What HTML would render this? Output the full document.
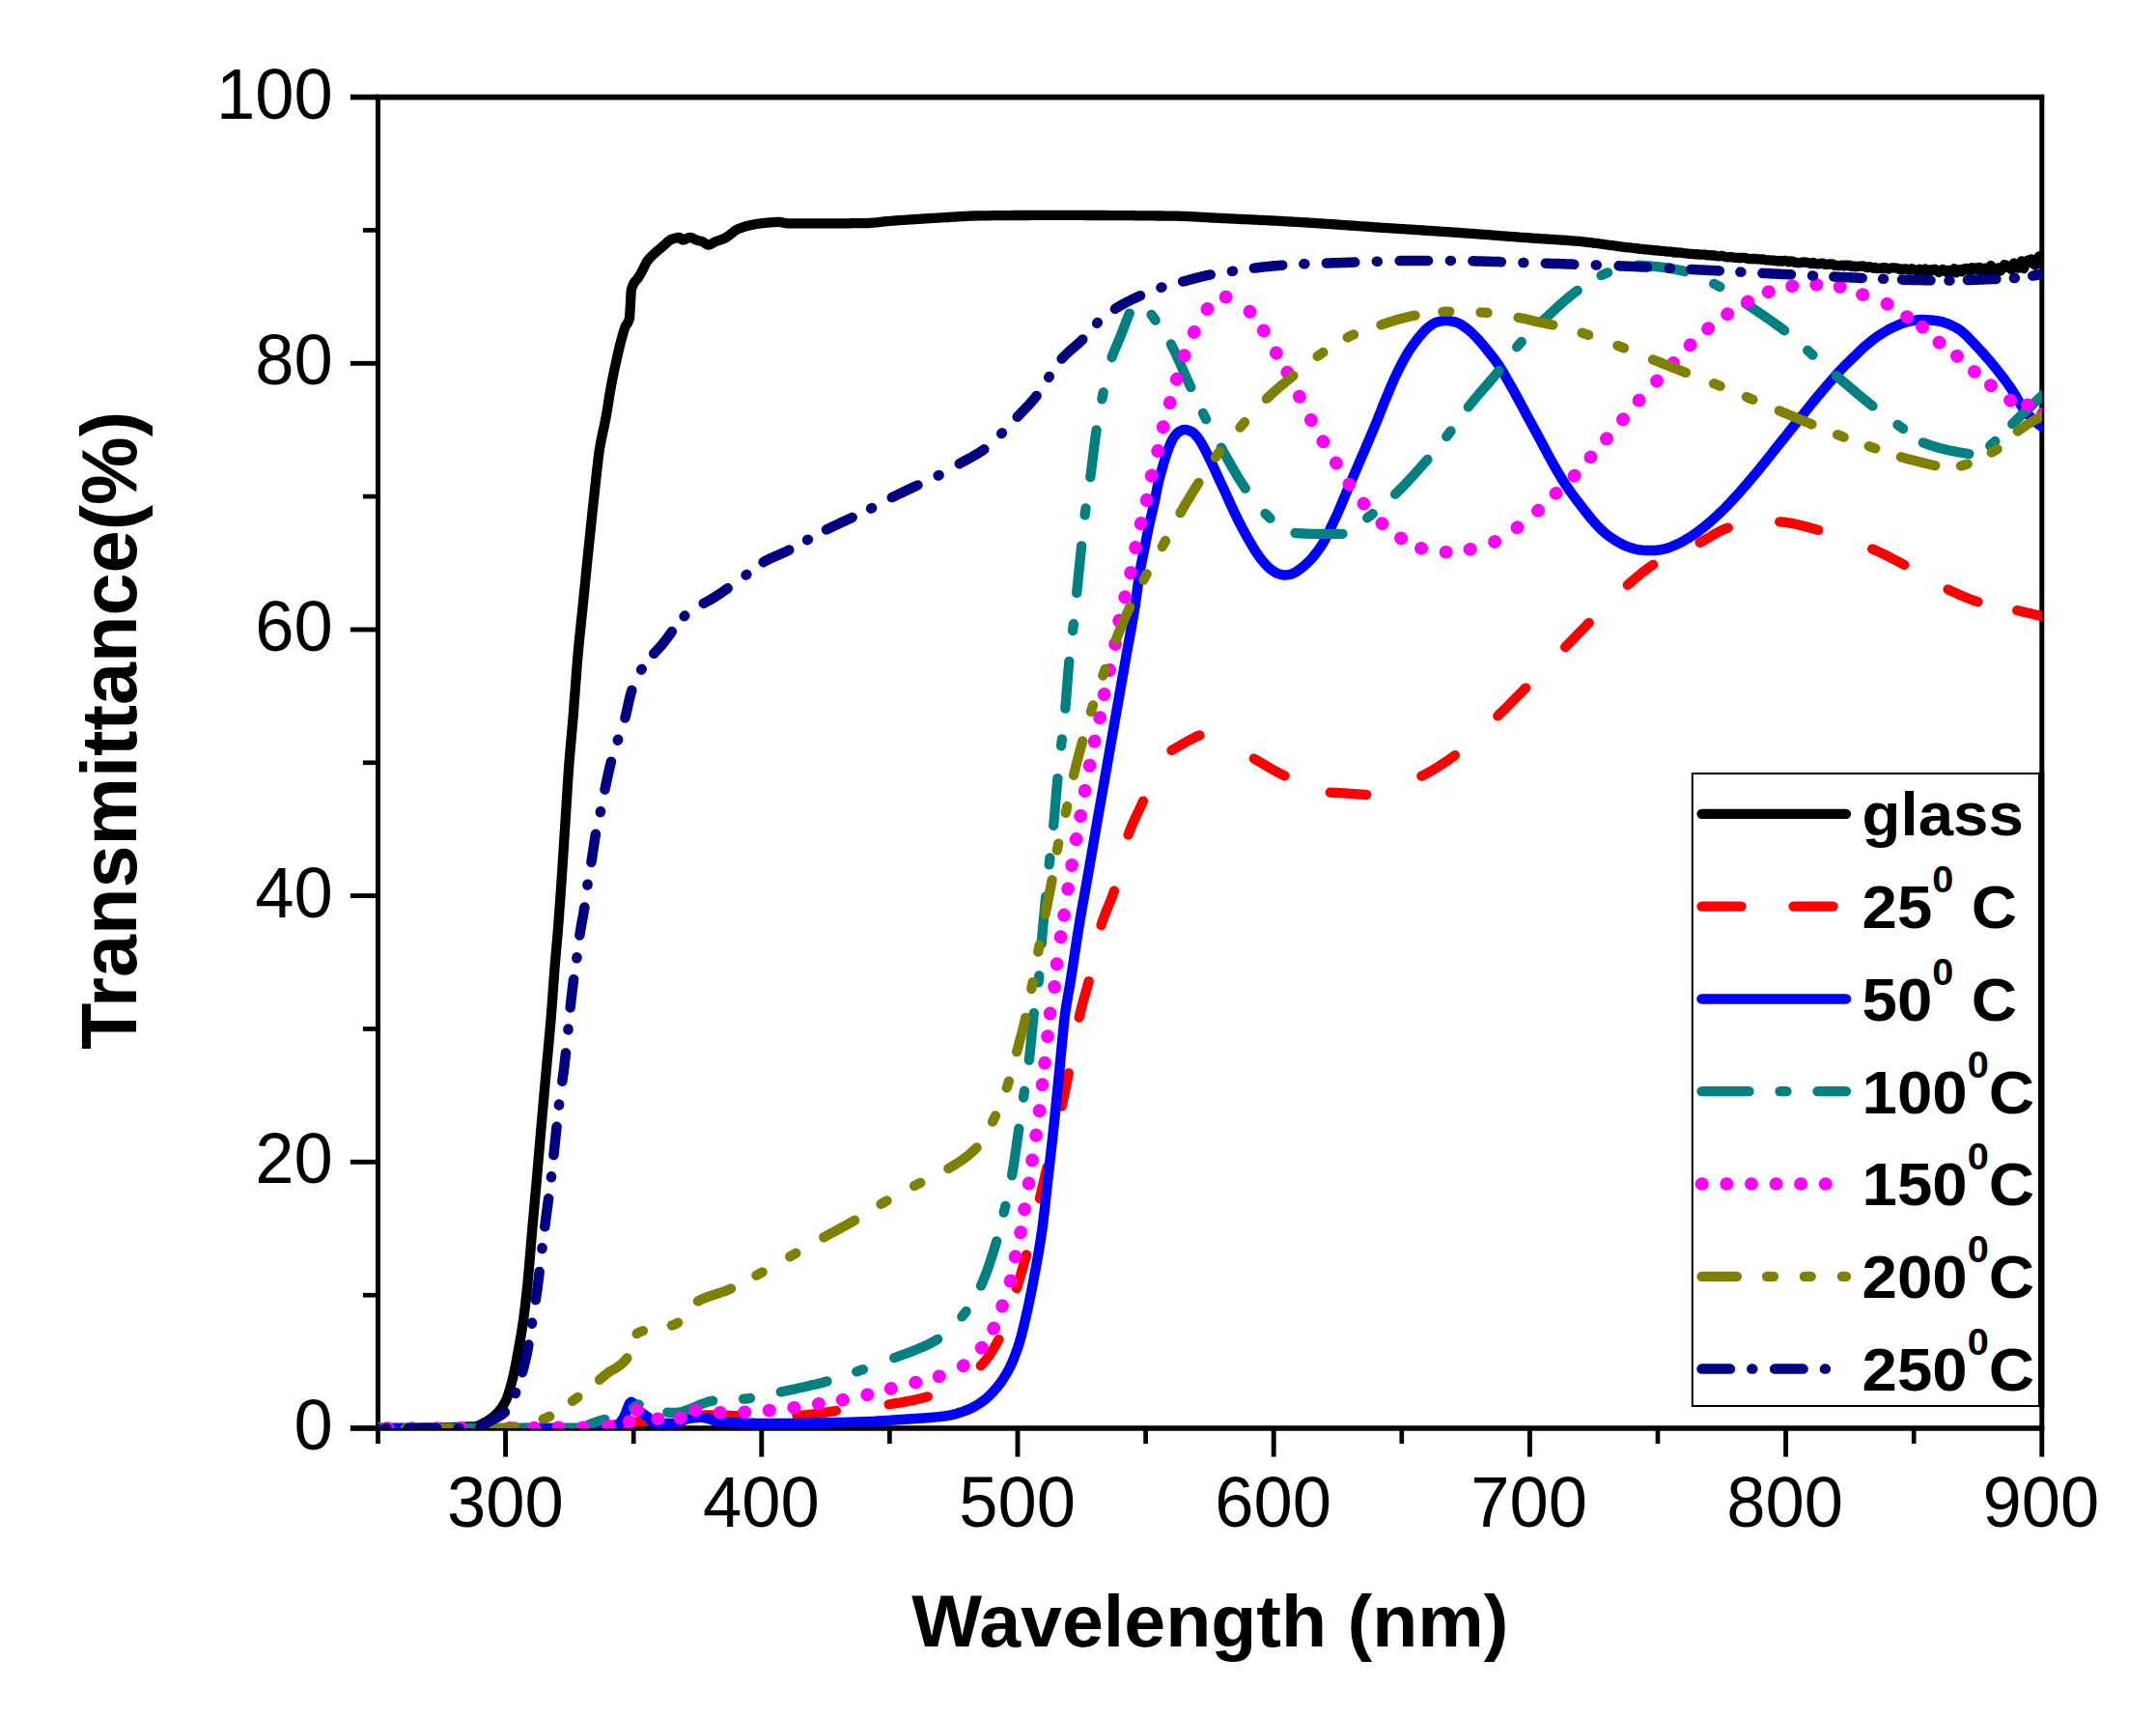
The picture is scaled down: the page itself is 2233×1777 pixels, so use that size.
<!DOCTYPE html>
<html><head><meta charset="utf-8"><title>Transmittance</title>
<style>
html,body{margin:0;padding:0;background:#fff;overflow:hidden;}
svg{display:block;}
text{font-family:"Liberation Sans",Arial,Helvetica,sans-serif;fill:#000;}
.b{font-weight:bold;}
</style></head><body>
<svg width="2233" height="1777" viewBox="0 0 2233 1777">
<rect width="2233" height="1777" fill="#fff"/>
<defs><clipPath id="cp"><rect x="391.2" y="100.6" width="1723.6000000000001" height="1378.4"/></clipPath></defs>

<g stroke="#000" fill="none" stroke-linecap="butt">
<line x1="389.0" y1="100.6" x2="2117.3" y2="100.6" stroke-width="5.7"/>
<line x1="389.0" y1="1479.0" x2="2117.3" y2="1479.0" stroke-width="5.7"/>
<line x1="391.5" y1="100.6" x2="391.5" y2="1479.0" stroke-width="5.0"/>
<line x1="2114.8" y1="100.6" x2="2114.8" y2="1479.0" stroke-width="5.0"/>
<line x1="523.6" y1="1479.0" x2="523.6" y2="1508.6" stroke-width="4.9"/>
<line x1="788.8" y1="1479.0" x2="788.8" y2="1508.6" stroke-width="4.9"/>
<line x1="1054.0" y1="1479.0" x2="1054.0" y2="1508.6" stroke-width="4.9"/>
<line x1="1319.2" y1="1479.0" x2="1319.2" y2="1508.6" stroke-width="4.9"/>
<line x1="1584.4" y1="1479.0" x2="1584.4" y2="1508.6" stroke-width="4.9"/>
<line x1="1849.6" y1="1479.0" x2="1849.6" y2="1508.6" stroke-width="4.9"/>
<line x1="2114.8" y1="1479.0" x2="2114.8" y2="1508.6" stroke-width="4.9"/>
<line x1="391.5" y1="1479.0" x2="391.5" y2="1495.0" stroke-width="4.7"/>
<line x1="656.2" y1="1479.0" x2="656.2" y2="1495.0" stroke-width="4.7"/>
<line x1="921.4" y1="1479.0" x2="921.4" y2="1495.0" stroke-width="4.7"/>
<line x1="1186.6" y1="1479.0" x2="1186.6" y2="1495.0" stroke-width="4.7"/>
<line x1="1451.8" y1="1479.0" x2="1451.8" y2="1495.0" stroke-width="4.7"/>
<line x1="1717.0" y1="1479.0" x2="1717.0" y2="1495.0" stroke-width="4.7"/>
<line x1="1982.2" y1="1479.0" x2="1982.2" y2="1495.0" stroke-width="4.7"/>
<line x1="391.5" y1="1479.0" x2="362.9" y2="1479.0" stroke-width="5.7"/>
<line x1="391.5" y1="1341.2" x2="375.9" y2="1341.2" stroke-width="4.7"/>
<line x1="391.5" y1="1203.3" x2="362.9" y2="1203.3" stroke-width="4.9"/>
<line x1="391.5" y1="1065.5" x2="375.9" y2="1065.5" stroke-width="4.7"/>
<line x1="391.5" y1="927.6" x2="362.9" y2="927.6" stroke-width="4.9"/>
<line x1="391.5" y1="789.8" x2="375.9" y2="789.8" stroke-width="4.7"/>
<line x1="391.5" y1="652.0" x2="362.9" y2="652.0" stroke-width="4.9"/>
<line x1="391.5" y1="514.1" x2="375.9" y2="514.1" stroke-width="4.7"/>
<line x1="391.5" y1="376.3" x2="362.9" y2="376.3" stroke-width="4.9"/>
<line x1="391.5" y1="238.4" x2="375.9" y2="238.4" stroke-width="4.7"/>
<line x1="391.5" y1="100.6" x2="362.9" y2="100.6" stroke-width="5.7"/>
</g>
<text transform="translate(523.4 1581.4) scale(0.965 1)" font-size="75" text-anchor="middle">300</text>
<text transform="translate(788.4 1581.4) scale(0.965 1)" font-size="75" text-anchor="middle">400</text>
<text transform="translate(1053.5 1581.4) scale(0.965 1)" font-size="75" text-anchor="middle">500</text>
<text transform="translate(1318.6 1581.4) scale(0.965 1)" font-size="75" text-anchor="middle">600</text>
<text transform="translate(1583.6 1581.4) scale(0.965 1)" font-size="75" text-anchor="middle">700</text>
<text transform="translate(1848.7 1581.4) scale(0.965 1)" font-size="75" text-anchor="middle">800</text>
<text transform="translate(2113.8 1581.4) scale(0.965 1)" font-size="75" text-anchor="middle">900</text>
<text transform="translate(344.8 1501.0) scale(0.965 1)" font-size="75" text-anchor="end">0</text>
<text transform="translate(344.8 1225.3) scale(0.965 1)" font-size="75" text-anchor="end">20</text>
<text transform="translate(344.8 949.6) scale(0.965 1)" font-size="75" text-anchor="end">40</text>
<text transform="translate(344.8 674.0) scale(0.965 1)" font-size="75" text-anchor="end">60</text>
<text transform="translate(344.8 398.3) scale(0.965 1)" font-size="75" text-anchor="end">80</text>
<text transform="translate(344.8 122.6) scale(0.965 1)" font-size="75" text-anchor="end">100</text>
<text class="b" transform="translate(1253.4 1705) scale(1.0213 1)" font-size="75.5" text-anchor="middle">Wavelength (nm)</text>
<text class="b" transform="translate(140.5 756.5) rotate(-90) scale(0.9733 1)" font-size="81.5" text-anchor="middle">Transmittance(%)</text>
<g clip-path="url(#cp)" fill="none" stroke-linejoin="round">
<path id="glass" d="M390.0 1479.0 L392.0 1479.0 L394.0 1479.0 L396.0 1479.0 L398.0 1479.0 L400.0 1479.0 L402.0 1479.0 L404.0 1479.0 L406.0 1479.0 L408.0 1479.0 L410.0 1479.0 L412.0 1479.0 L414.0 1478.9 L416.0 1478.9 L418.0 1478.9 L420.0 1478.9 L422.0 1478.9 L424.0 1478.9 L426.0 1478.9 L428.0 1478.8 L430.0 1478.8 L432.0 1478.8 L434.0 1478.8 L436.0 1478.7 L438.0 1478.7 L440.0 1478.7 L442.0 1478.7 L444.0 1478.6 L446.0 1478.6 L448.0 1478.6 L450.0 1478.5 L452.0 1478.5 L454.0 1478.4 L456.0 1478.4 L458.0 1478.3 L460.0 1478.3 L462.0 1478.2 L464.0 1478.2 L466.0 1478.1 L468.0 1478.1 L470.0 1478.0 L472.0 1478.0 L474.0 1477.9 L476.0 1477.8 L478.0 1477.8 L480.0 1477.7 L482.0 1477.6 L484.0 1477.5 L486.0 1477.5 L488.0 1477.4 L490.0 1477.3 L491.9 1477.2 L492.0 1477.2 L494.0 1476.9 L496.0 1476.2 L498.0 1475.2 L500.0 1474.2 L502.0 1473.0 L503.1 1472.4 L504.0 1471.9 L506.0 1470.7 L508.0 1469.3 L510.0 1467.8 L512.0 1466.2 L514.0 1464.3 L514.3 1464.0 L516.0 1462.2 L518.0 1459.9 L520.0 1457.1 L522.0 1453.9 L524.0 1450.2 L524.1 1450.0 L526.0 1445.3 L528.0 1438.9 L530.0 1431.5 L531.0 1427.6 L532.0 1423.4 L534.0 1413.7 L536.0 1403.0 L536.6 1399.7 L538.0 1392.0 L540.0 1380.5 L542.0 1367.5 L542.2 1366.1 L544.0 1351.9 L546.0 1333.6 L546.4 1329.7 L548.0 1312.2 L550.0 1288.0 L551.2 1273.8 L552.0 1264.7 L554.0 1242.5 L556.0 1220.1 L556.2 1217.8 L558.0 1196.9 L560.0 1173.4 L561.0 1161.9 L562.0 1150.6 L564.0 1128.3 L566.0 1106.0 L568.0 1084.2 L570.0 1062.0 L571.0 1050.0 L572.0 1036.8 L574.0 1008.8 L574.4 1003.6 L576.0 984.9 L578.0 961.6 L580.0 934.7 L582.0 905.7 L584.0 874.9 L585.6 849.7 L586.0 843.4 L588.0 811.3 L589.2 793.8 L590.0 783.6 L592.0 760.8 L594.0 737.8 L596.0 710.7 L598.0 684.2 L598.2 681.9 L600.0 662.7 L602.0 643.4 L603.8 626.0 L604.0 624.0 L606.0 603.9 L608.0 583.8 L609.4 570.0 L610.0 564.2 L612.0 544.9 L614.0 526.0 L616.0 507.6 L616.4 504.0 L618.0 489.1 L620.0 471.8 L620.6 467.6 L622.0 459.2 L624.0 449.3 L626.0 440.1 L628.0 430.0 L630.0 417.7 L632.0 405.0 L632.9 399.8 L634.0 394.0 L636.0 384.3 L637.8 376.0 L638.0 375.1 L640.0 366.1 L642.0 357.7 L642.7 355.0 L644.0 350.1 L646.0 342.9 L647.6 338.3 L648.0 337.4 L650.0 334.8 L652.0 329.9 L652.9 315.9 L653.6 301.9 L654.0 299.6 L655.9 294.2 L656.0 294.0 L658.0 291.1 L660.0 289.0 L660.8 287.9 L662.0 286.0 L664.0 282.6 L665.7 279.5 L666.0 278.9 L668.0 274.7 L669.9 271.1 L670.0 271.0 L672.0 268.4 L674.0 266.2 L676.0 264.2 L677.6 262.7 L678.0 262.3 L680.0 260.5 L682.0 258.8 L684.0 257.2 L686.0 255.6 L686.7 255.0 L688.0 253.8 L690.0 251.9 L692.0 250.0 L694.0 248.5 L695.1 248.0 L696.0 247.7 L698.0 246.9 L700.0 246.4 L702.0 246.0 L703.5 245.9 L704.0 246.0 L706.0 248.0 L707.0 248.5 L708.0 248.4 L710.0 247.6 L712.0 246.6 L714.0 246.0 L714.7 245.9 L716.0 246.1 L718.0 246.9 L720.0 248.0 L721.7 248.7 L722.0 248.8 L724.0 249.3 L726.0 249.7 L727.3 250.1 L728.0 250.4 L730.0 251.8 L732.0 253.1 L733.6 253.6 L734.0 253.6 L736.0 253.0 L738.0 251.9 L740.0 250.7 L741.3 250.1 L742.0 249.8 L744.0 249.1 L746.0 248.5 L748.0 247.8 L749.7 247.1 L750.0 247.0 L752.0 245.9 L754.0 244.6 L755.2 243.8 L756.0 243.2 L758.0 241.5 L760.0 239.8 L762.0 238.4 L762.2 238.3 L764.0 237.4 L766.0 236.5 L768.0 235.8 L770.0 235.1 L772.0 234.5 L774.0 233.9 L776.0 233.4 L778.0 233.0 L780.0 232.6 L782.0 232.2 L783.2 232.0 L784.0 231.9 L786.0 231.6 L788.0 231.4 L790.0 231.1 L792.0 230.9 L794.0 230.7 L795.8 230.6 L796.0 230.6 L798.0 230.4 L800.0 230.2 L802.0 230.1 L804.0 230.0 L806.0 229.9 L807.0 229.9 L808.0 230.0 L810.0 230.3 L812.0 230.8 L814.0 231.2 L815.4 231.3 L816.0 231.3 L818.0 231.3 L820.0 231.3 L822.0 231.4 L824.0 231.4 L826.0 231.4 L828.0 231.4 L830.0 231.4 L832.0 231.4 L834.0 231.4 L836.0 231.4 L837.8 231.4 L838.0 231.4 L840.0 231.4 L842.0 231.4 L844.0 231.4 L846.0 231.4 L848.0 231.4 L850.0 231.4 L852.0 231.4 L854.0 231.4 L856.0 231.4 L858.0 231.4 L860.0 231.4 L862.0 231.4 L864.0 231.3 L866.0 231.3 L868.0 231.3 L870.0 231.3 L872.0 231.3 L874.0 231.3 L876.0 231.3 L878.0 231.3 L880.0 231.3 L882.0 231.2 L884.0 231.2 L886.0 231.2 L888.0 231.2 L890.0 231.2 L892.0 231.2 L894.0 231.1 L896.0 231.1 L897.5 231.1 L898.0 231.1 L900.0 231.0 L902.0 230.9 L904.0 230.7 L906.0 230.5 L908.0 230.3 L910.0 230.1 L912.0 229.8 L914.0 229.6 L916.0 229.4 L918.0 229.2 L919.9 229.0 L920.0 229.0 L922.0 228.8 L924.0 228.7 L926.0 228.5 L928.0 228.4 L930.0 228.2 L932.0 228.1 L934.0 227.9 L936.0 227.8 L938.0 227.7 L940.0 227.5 L942.0 227.4 L944.0 227.3 L946.0 227.1 L948.0 227.0 L950.0 226.9 L952.0 226.8 L954.0 226.6 L956.0 226.5 L958.0 226.4 L960.0 226.3 L962.0 226.1 L964.0 226.0 L966.0 225.9 L968.0 225.8 L970.0 225.7 L972.0 225.6 L974.0 225.4 L976.0 225.3 L978.0 225.2 L980.0 225.1 L982.0 225.0 L984.0 224.9 L986.0 224.7 L988.0 224.6 L990.0 224.5 L992.0 224.4 L994.0 224.2 L996.0 224.1 L998.0 224.0 L1000.0 223.9 L1002.0 223.8 L1004.0 223.7 L1006.0 223.6 L1008.0 223.5 L1010.0 223.5 L1012.0 223.4 L1013.6 223.4 L1014.0 223.4 L1016.0 223.4 L1018.0 223.3 L1020.0 223.3 L1022.0 223.3 L1024.0 223.3 L1026.0 223.3 L1028.0 223.2 L1030.0 223.2 L1032.0 223.2 L1034.0 223.2 L1036.0 223.2 L1038.0 223.1 L1040.0 223.1 L1042.0 223.1 L1044.0 223.1 L1046.0 223.1 L1048.0 223.1 L1050.0 223.0 L1052.0 223.0 L1054.0 223.0 L1056.0 223.0 L1058.0 223.0 L1060.0 223.0 L1062.0 223.0 L1064.0 223.0 L1066.0 223.0 L1068.0 222.9 L1070.0 222.9 L1072.0 222.9 L1074.0 222.9 L1076.0 222.9 L1078.0 222.9 L1080.0 222.9 L1082.0 222.9 L1084.0 222.9 L1086.0 222.9 L1088.0 222.9 L1090.0 222.9 L1091.9 222.9 L1092.0 222.9 L1094.0 222.9 L1096.0 222.9 L1098.0 222.9 L1100.0 222.9 L1102.0 222.9 L1104.0 222.9 L1106.0 222.9 L1108.0 222.9 L1110.0 222.9 L1112.0 222.9 L1114.0 222.9 L1116.0 222.9 L1118.0 222.9 L1120.0 222.9 L1122.0 222.9 L1124.0 223.0 L1126.0 223.0 L1128.0 223.0 L1130.0 223.0 L1132.0 223.0 L1134.0 223.0 L1136.0 223.0 L1138.0 223.0 L1140.0 223.0 L1142.0 223.0 L1144.0 223.0 L1146.0 223.0 L1148.0 223.1 L1150.0 223.1 L1152.0 223.1 L1154.0 223.1 L1156.0 223.1 L1158.0 223.1 L1160.0 223.1 L1162.0 223.1 L1164.0 223.2 L1166.0 223.2 L1168.0 223.2 L1170.0 223.2 L1172.0 223.2 L1174.0 223.2 L1176.0 223.3 L1178.0 223.3 L1180.0 223.3 L1182.0 223.3 L1184.0 223.3 L1186.0 223.3 L1188.0 223.4 L1190.0 223.4 L1192.0 223.4 L1194.0 223.4 L1196.0 223.4 L1198.0 223.5 L1200.0 223.5 L1202.0 223.5 L1204.0 223.5 L1206.0 223.6 L1208.0 223.6 L1210.0 223.6 L1212.0 223.6 L1214.0 223.7 L1216.0 223.7 L1217.8 223.7 L1218.0 223.7 L1220.0 223.7 L1222.0 223.8 L1224.0 223.8 L1226.0 223.9 L1228.0 224.0 L1230.0 224.1 L1232.0 224.2 L1234.0 224.3 L1236.0 224.4 L1238.0 224.5 L1240.0 224.6 L1242.0 224.7 L1244.0 224.8 L1246.0 224.9 L1248.0 225.1 L1250.0 225.2 L1252.0 225.3 L1254.0 225.4 L1256.0 225.5 L1258.0 225.6 L1259.7 225.7 L1260.0 225.7 L1262.0 225.8 L1264.0 225.9 L1266.0 226.0 L1268.0 226.1 L1270.0 226.2 L1272.0 226.3 L1274.0 226.4 L1276.0 226.5 L1278.0 226.6 L1280.0 226.7 L1282.0 226.8 L1284.0 226.9 L1286.0 227.0 L1288.0 227.1 L1290.0 227.2 L1292.0 227.2 L1294.0 227.3 L1296.0 227.4 L1298.0 227.5 L1300.0 227.6 L1302.0 227.7 L1304.0 227.8 L1306.0 227.9 L1308.0 228.0 L1310.0 228.1 L1312.0 228.2 L1314.0 228.3 L1316.0 228.4 L1318.0 228.5 L1320.0 228.6 L1322.0 228.7 L1324.0 228.8 L1326.0 228.9 L1328.0 229.0 L1330.0 229.1 L1332.0 229.3 L1334.0 229.4 L1336.0 229.5 L1338.0 229.6 L1340.0 229.7 L1342.0 229.8 L1343.6 229.9 L1344.0 229.9 L1346.0 230.0 L1348.0 230.2 L1350.0 230.3 L1352.0 230.4 L1354.0 230.5 L1356.0 230.6 L1358.0 230.8 L1360.0 230.9 L1362.0 231.0 L1364.0 231.2 L1366.0 231.3 L1368.0 231.4 L1370.0 231.5 L1372.0 231.7 L1374.0 231.8 L1376.0 231.9 L1378.0 232.1 L1380.0 232.2 L1382.0 232.4 L1384.0 232.5 L1386.0 232.6 L1388.0 232.8 L1390.0 232.9 L1392.0 233.1 L1394.0 233.2 L1396.0 233.3 L1398.0 233.5 L1400.0 233.6 L1402.0 233.7 L1404.0 233.9 L1406.0 234.0 L1408.0 234.2 L1410.0 234.3 L1412.0 234.4 L1414.0 234.6 L1416.0 234.7 L1418.0 234.9 L1420.0 235.0 L1422.0 235.1 L1424.0 235.3 L1426.0 235.4 L1427.6 235.5 L1428.0 235.5 L1430.0 235.7 L1432.0 235.8 L1434.0 235.9 L1436.0 236.1 L1438.0 236.2 L1440.0 236.3 L1442.0 236.4 L1444.0 236.6 L1446.0 236.7 L1448.0 236.8 L1450.0 237.0 L1452.0 237.1 L1454.0 237.2 L1456.0 237.3 L1458.0 237.5 L1460.0 237.6 L1462.0 237.7 L1464.0 237.9 L1466.0 238.0 L1468.0 238.1 L1470.0 238.2 L1472.0 238.4 L1474.0 238.5 L1476.0 238.6 L1478.0 238.8 L1480.0 238.9 L1482.0 239.0 L1484.0 239.1 L1486.0 239.3 L1488.0 239.4 L1490.0 239.5 L1492.0 239.7 L1494.0 239.8 L1496.0 239.9 L1498.0 240.1 L1500.0 240.2 L1502.0 240.3 L1504.0 240.5 L1506.0 240.6 L1508.0 240.8 L1510.0 240.9 L1511.5 241.0 L1512.0 241.0 L1514.0 241.2 L1516.0 241.3 L1518.0 241.5 L1520.0 241.6 L1522.0 241.8 L1524.0 241.9 L1526.0 242.0 L1528.0 242.2 L1530.0 242.3 L1532.0 242.5 L1534.0 242.6 L1536.0 242.8 L1538.0 242.9 L1540.0 243.1 L1542.0 243.2 L1544.0 243.4 L1546.0 243.6 L1548.0 243.7 L1550.0 243.9 L1552.0 244.0 L1554.0 244.2 L1556.0 244.3 L1558.0 244.5 L1560.0 244.6 L1562.0 244.8 L1564.0 244.9 L1566.0 245.1 L1568.0 245.2 L1570.0 245.4 L1572.0 245.5 L1574.0 245.7 L1576.0 245.8 L1578.0 246.0 L1580.0 246.1 L1582.0 246.2 L1584.0 246.4 L1586.0 246.5 L1588.0 246.7 L1590.0 246.8 L1592.0 246.9 L1594.0 247.0 L1596.0 247.2 L1598.0 247.3 L1600.0 247.4 L1602.0 247.5 L1604.0 247.7 L1606.0 247.8 L1608.0 247.9 L1610.0 248.0 L1612.0 248.2 L1614.0 248.3 L1616.0 248.5 L1618.0 248.6 L1620.0 248.7 L1622.0 248.9 L1624.0 249.0 L1626.0 249.2 L1628.0 249.3 L1630.0 249.5 L1632.0 249.6 L1634.0 249.8 L1635.9 250.0 L1636.0 249.9 L1638.0 250.2 L1640.0 250.4 L1642.0 250.7 L1644.0 250.9 L1646.0 251.0 L1648.0 251.2 L1650.0 251.6 L1652.0 251.8 L1654.0 251.9 L1656.0 252.3 L1658.0 252.5 L1660.0 252.9 L1662.0 253.2 L1664.0 253.5 L1666.0 253.7 L1668.0 254.1 L1670.0 254.1 L1672.0 254.4 L1674.0 254.6 L1676.0 255.2 L1678.0 255.2 L1680.0 255.6 L1682.0 255.8 L1684.0 256.2 L1686.0 256.3 L1688.0 256.4 L1690.0 256.7 L1691.9 256.8 L1692.0 256.9 L1694.0 257.3 L1696.0 257.2 L1698.0 257.9 L1700.0 257.9 L1702.0 258.0 L1704.0 258.5 L1706.0 258.3 L1708.0 258.6 L1710.0 259.1 L1712.0 258.9 L1714.0 259.4 L1716.0 259.2 L1718.0 259.7 L1720.0 259.9 L1722.0 259.9 L1724.0 260.1 L1726.0 260.5 L1728.0 260.7 L1730.0 260.5 L1732.0 260.9 L1734.0 261.5 L1736.0 261.2 L1738.0 261.7 L1740.0 261.5 L1742.0 261.8 L1744.0 262.1 L1746.0 262.3 L1748.0 262.6 L1750.0 262.8 L1752.0 262.9 L1754.0 263.2 L1756.0 263.4 L1758.0 263.1 L1760.0 263.7 L1762.0 263.6 L1764.0 263.6 L1766.0 263.7 L1768.0 264.4 L1770.0 264.4 L1772.0 264.1 L1774.0 264.7 L1775.8 264.4 L1776.0 264.7 L1778.0 265.1 L1780.0 265.3 L1782.0 265.0 L1784.0 265.0 L1786.0 265.7 L1788.0 266.1 L1790.0 266.3 L1792.0 266.0 L1794.0 266.4 L1796.0 266.7 L1798.0 267.0 L1800.0 266.8 L1802.0 267.3 L1804.0 266.9 L1806.0 266.9 L1808.0 267.2 L1810.0 267.8 L1812.0 268.2 L1814.0 267.8 L1816.0 268.3 L1818.0 267.8 L1820.0 268.4 L1822.0 268.4 L1824.0 268.6 L1826.0 268.4 L1828.0 269.1 L1830.0 269.3 L1832.0 269.4 L1834.0 269.7 L1836.0 269.5 L1838.0 270.1 L1840.0 269.9 L1842.0 270.5 L1844.0 270.0 L1846.0 270.6 L1848.0 270.0 L1850.0 270.0 L1852.0 271.3 L1854.0 270.7 L1856.0 270.4 L1858.0 271.3 L1859.7 271.9 L1860.0 271.7 L1862.0 272.1 L1864.0 272.2 L1866.0 271.7 L1868.0 271.5 L1870.0 271.4 L1872.0 271.9 L1874.0 272.5 L1876.0 273.1 L1878.0 271.9 L1880.0 273.2 L1882.0 273.3 L1884.0 273.3 L1886.0 272.6 L1888.0 272.6 L1890.0 273.8 L1892.0 273.8 L1894.0 273.5 L1896.0 273.6 L1898.0 273.3 L1900.0 274.9 L1902.0 274.8 L1904.0 275.2 L1906.0 275.1 L1908.0 274.6 L1910.0 275.4 L1912.0 274.5 L1914.0 275.4 L1915.7 274.8 L1916.0 275.0 L1918.0 276.0 L1920.0 275.4 L1922.0 276.3 L1924.0 275.9 L1926.0 275.6 L1928.0 275.7 L1930.0 275.4 L1932.0 276.5 L1934.0 277.1 L1936.0 276.1 L1938.0 276.7 L1940.0 277.8 L1942.0 276.9 L1944.0 278.0 L1946.0 277.9 L1948.0 277.5 L1950.0 277.9 L1952.0 276.9 L1954.0 277.9 L1956.0 278.5 L1958.0 277.5 L1960.0 277.3 L1962.0 277.3 L1964.0 277.7 L1966.0 277.9 L1968.0 279.3 L1970.0 278.6 L1971.6 278.9 L1972.0 278.4 L1974.0 278.4 L1976.0 279.1 L1978.0 279.7 L1980.0 278.3 L1982.0 279.1 L1984.0 279.8 L1986.0 280.8 L1988.0 278.8 L1990.0 279.3 L1992.0 279.9 L1994.0 278.6 L1996.0 280.2 L1998.0 281.5 L2000.0 279.2 L2002.0 280.0 L2004.0 278.7 L2006.0 280.2 L2008.0 282.0 L2010.0 280.4 L2012.0 279.0 L2013.6 279.4 L2014.0 280.7 L2016.0 281.8 L2018.0 280.0 L2020.0 280.1 L2022.0 281.6 L2024.0 278.2 L2026.0 282.3 L2028.0 279.8 L2030.0 279.1 L2032.0 281.4 L2034.0 278.5 L2036.0 277.8 L2038.0 278.3 L2040.0 280.7 L2042.0 277.1 L2044.0 279.2 L2046.0 277.7 L2048.0 279.6 L2050.0 276.8 L2052.0 281.1 L2054.0 282.1 L2055.5 277.7 L2056.0 277.9 L2058.0 279.6 L2060.0 280.6 L2062.0 275.0 L2064.0 279.8 L2066.0 280.9 L2068.0 280.5 L2070.0 277.3 L2072.0 280.5 L2074.0 277.8 L2076.0 274.1 L2078.0 274.7 L2080.0 277.4 L2082.0 276.8 L2083.5 279.1 L2084.0 278.2 L2086.0 272.5 L2088.0 274.0 L2090.0 277.7 L2092.0 273.6 L2094.0 270.3 L2096.0 278.2 L2098.0 271.9 L2100.0 269.7 L2102.0 271.8 L2103.0 268.9 L2104.0 268.4 L2106.0 273.2 L2108.0 274.8 L2110.0 269.3 L2112.0 265.5 L2114.0 269.8 L2116.0 268.6" stroke="#000000" stroke-width="10.3" stroke-linecap="round"/>
<path id="r25" d="M390.0 1479.0 L392.0 1479.0 L394.0 1479.0 L396.0 1479.0 L398.0 1479.0 L400.0 1479.0 L402.0 1479.0 L404.0 1479.0 L406.0 1479.0 L408.0 1479.0 L410.0 1479.0 L412.0 1479.0 L414.0 1479.0 L416.0 1479.0 L418.0 1479.0 L420.0 1479.0 L422.0 1479.0 L424.0 1479.0 L426.0 1479.0 L428.0 1479.0 L430.0 1479.0 L432.0 1479.0 L434.0 1479.0 L436.0 1479.0 L438.0 1479.0 L440.0 1479.0 L442.0 1479.0 L444.0 1479.0 L446.0 1479.0 L448.0 1479.0 L450.0 1479.0 L452.0 1479.0 L454.0 1479.0 L456.0 1479.0 L458.0 1479.0 L460.0 1479.0 L462.0 1479.0 L464.0 1479.0 L466.0 1479.0 L468.0 1479.0 L470.0 1479.0 L472.0 1479.0 L474.0 1479.0 L476.0 1479.0 L478.0 1479.0 L480.0 1479.0 L482.0 1479.0 L484.0 1479.0 L486.0 1479.0 L488.0 1479.0 L490.0 1479.0 L492.0 1479.0 L494.0 1479.0 L496.0 1479.0 L498.0 1479.0 L500.0 1479.0 L502.0 1479.0 L504.0 1479.0 L506.0 1479.0 L508.0 1478.9 L510.0 1478.9 L512.0 1478.9 L514.0 1478.9 L516.0 1478.9 L518.0 1478.9 L520.0 1478.9 L522.0 1478.9 L524.0 1478.9 L526.0 1478.9 L528.0 1478.9 L530.0 1478.9 L532.0 1478.9 L534.0 1478.9 L536.0 1478.9 L538.0 1478.9 L540.0 1478.9 L542.0 1478.9 L544.0 1478.9 L546.0 1478.9 L548.0 1478.9 L550.0 1478.9 L552.0 1478.9 L554.0 1478.9 L556.0 1478.9 L558.0 1478.9 L560.0 1478.9 L562.0 1478.9 L564.0 1478.9 L566.0 1478.9 L568.0 1478.9 L570.0 1478.9 L572.0 1478.9 L574.0 1478.9 L576.0 1478.9 L578.0 1478.8 L580.0 1478.8 L582.0 1478.8 L584.0 1478.8 L586.0 1478.8 L588.0 1478.8 L590.0 1478.8 L592.0 1478.8 L594.0 1478.8 L596.0 1478.8 L598.0 1478.8 L600.0 1478.8 L602.0 1478.8 L604.0 1478.7 L606.0 1478.7 L608.0 1478.6 L610.0 1478.4 L612.0 1478.3 L614.0 1478.2 L616.0 1478.0 L618.0 1477.8 L620.0 1477.6 L622.0 1477.3 L624.0 1477.1 L626.0 1476.9 L628.0 1476.6 L630.0 1476.3 L632.0 1476.1 L634.0 1475.8 L636.0 1475.5 L638.0 1475.2 L640.0 1474.9 L642.0 1474.7 L644.0 1474.4 L646.0 1474.1 L648.0 1473.8 L650.0 1473.6 L652.0 1473.3 L654.0 1473.0 L656.0 1472.8 L658.0 1472.6 L659.7 1472.4 L660.0 1472.4 L662.0 1472.2 L664.0 1471.9 L666.0 1471.7 L668.0 1471.5 L670.0 1471.2 L672.0 1471.0 L674.0 1470.7 L676.0 1470.4 L678.0 1470.2 L680.0 1469.9 L682.0 1469.6 L684.0 1469.4 L686.0 1469.1 L688.0 1468.9 L690.0 1468.6 L692.0 1468.3 L694.0 1468.1 L696.0 1467.8 L698.0 1467.6 L700.0 1467.4 L702.0 1467.1 L704.0 1466.9 L706.0 1466.7 L708.0 1466.5 L710.0 1466.3 L712.0 1466.2 L714.0 1466.0 L716.0 1465.9 L718.0 1465.8 L720.0 1465.6 L722.0 1465.6 L724.0 1465.5 L726.0 1465.4 L728.0 1465.4 L729.7 1465.4 L730.0 1465.4 L732.0 1465.4 L734.0 1465.4 L736.0 1465.4 L738.0 1465.5 L740.0 1465.5 L742.0 1465.6 L744.0 1465.6 L746.0 1465.7 L748.0 1465.7 L750.0 1465.8 L752.0 1465.8 L754.0 1465.9 L756.0 1465.9 L758.0 1466.0 L760.0 1466.1 L762.0 1466.1 L764.0 1466.1 L766.0 1466.2 L768.0 1466.2 L770.0 1466.2 L771.6 1466.2 L772.0 1466.2 L774.0 1466.2 L776.0 1466.2 L778.0 1466.2 L780.0 1466.2 L782.0 1466.2 L784.0 1466.2 L786.0 1466.2 L788.0 1466.2 L790.0 1466.2 L792.0 1466.2 L794.0 1466.2 L796.0 1466.2 L798.0 1466.1 L800.0 1466.1 L802.0 1466.1 L804.0 1466.1 L806.0 1466.1 L808.0 1466.1 L810.0 1466.1 L812.0 1466.1 L814.0 1466.1 L816.0 1466.0 L818.0 1466.0 L820.0 1466.0 L822.0 1466.0 L824.0 1466.0 L826.0 1465.9 L828.0 1465.8 L830.0 1465.7 L832.0 1465.5 L834.0 1465.4 L836.0 1465.2 L838.0 1464.9 L840.0 1464.7 L842.0 1464.5 L844.0 1464.2 L846.0 1463.9 L848.0 1463.6 L850.0 1463.3 L852.0 1463.0 L854.0 1462.8 L856.0 1462.5 L858.0 1462.2 L860.0 1461.9 L862.0 1461.6 L864.0 1461.3 L866.0 1461.0 L868.0 1460.8 L869.5 1460.6 L870.0 1460.5 L872.0 1460.3 L874.0 1460.1 L876.0 1459.9 L878.0 1459.6 L880.0 1459.4 L882.0 1459.2 L884.0 1459.0 L886.0 1458.7 L888.0 1458.5 L890.0 1458.3 L892.0 1458.1 L894.0 1457.8 L896.0 1457.6 L898.0 1457.4 L900.0 1457.1 L902.0 1456.9 L904.0 1456.6 L906.0 1456.4 L908.0 1456.1 L910.0 1455.8 L912.0 1455.5 L914.0 1455.3 L916.0 1455.0 L917.1 1454.8 L918.0 1454.7 L920.0 1454.4 L922.0 1454.1 L924.0 1453.7 L926.0 1453.4 L928.0 1453.1 L930.0 1452.8 L932.0 1452.5 L934.0 1452.1 L936.0 1451.8 L938.0 1451.4 L940.0 1451.0 L942.0 1450.7 L944.0 1450.3 L946.0 1449.9 L948.0 1449.4 L950.0 1449.0 L952.0 1448.5 L954.0 1448.1 L956.0 1447.6 L958.0 1447.1 L960.0 1446.5 L962.0 1446.0 L964.0 1445.4 L964.6 1445.2 L966.0 1444.8 L968.0 1444.1 L970.0 1443.4 L972.0 1442.7 L974.0 1441.9 L976.0 1441.0 L978.0 1440.1 L980.0 1439.2 L982.0 1438.2 L984.0 1437.2 L986.0 1436.1 L988.0 1435.0 L990.0 1433.8 L992.0 1432.6 L994.0 1431.3 L996.0 1430.0 L998.0 1428.7 L1000.0 1427.3 L1002.0 1425.8 L1004.0 1424.3 L1006.0 1422.7 L1008.0 1421.1 L1010.0 1419.5 L1012.0 1417.8 L1013.6 1416.4 L1014.0 1416.0 L1016.0 1414.1 L1018.0 1412.0 L1020.0 1409.7 L1022.0 1407.2 L1024.0 1404.4 L1026.0 1401.5 L1028.0 1398.4 L1030.0 1395.1 L1032.0 1391.6 L1034.0 1388.0 L1035.9 1384.3 L1036.0 1384.1 L1038.0 1379.8 L1040.0 1374.7 L1042.0 1369.1 L1044.0 1363.1 L1046.0 1356.8 L1048.0 1350.3 L1050.0 1343.8 L1052.0 1337.3 L1052.2 1336.7 L1054.0 1330.9 L1056.0 1324.3 L1058.0 1317.5 L1060.0 1310.5 L1062.0 1303.3 L1063.9 1296.2 L1064.0 1295.8 L1066.0 1288.0 L1068.0 1279.8 L1070.0 1271.3 L1072.0 1262.6 L1074.0 1253.8 L1076.0 1245.0 L1078.0 1236.3 L1080.0 1227.6 L1081.0 1223.4 L1082.0 1219.2 L1084.0 1211.0 L1086.0 1202.9 L1088.0 1194.9 L1090.0 1186.8 L1092.0 1178.7 L1094.0 1170.5 L1096.0 1162.0 L1098.0 1153.3 L1098.9 1149.3 L1100.0 1144.3 L1102.0 1134.9 L1104.0 1125.1 L1106.0 1115.2 L1107.3 1108.7 L1108.0 1105.1 L1110.0 1094.5 L1112.0 1083.4 L1114.0 1072.4 L1116.0 1061.8 L1118.0 1052.2 L1118.5 1050.0 L1120.0 1043.8 L1122.0 1036.4 L1124.0 1029.4 L1126.0 1022.3 L1128.0 1014.6 L1128.3 1013.4 L1130.0 1005.8 L1132.0 996.0 L1134.0 985.8 L1136.0 975.9 L1138.0 967.0 L1139.4 961.6 L1140.0 959.6 L1142.0 953.4 L1144.0 947.9 L1146.0 942.9 L1148.0 938.1 L1150.0 933.3 L1152.0 928.1 L1154.0 922.3 L1154.8 919.7 L1156.0 915.5 L1158.0 907.3 L1160.0 898.4 L1162.0 889.2 L1164.0 880.4 L1166.0 872.5 L1167.4 867.9 L1168.0 866.1 L1170.0 860.6 L1172.0 855.6 L1174.0 850.9 L1176.0 846.6 L1178.0 842.4 L1180.0 838.2 L1182.0 834.0 L1184.0 829.6 L1185.6 825.9 L1186.0 824.9 L1188.0 819.6 L1190.0 813.8 L1192.0 807.7 L1194.0 801.6 L1196.0 795.9 L1198.0 790.8 L1200.0 786.5 L1202.0 783.5 L1203.0 782.5 L1204.0 781.8 L1206.0 780.6 L1208.0 779.7 L1210.0 778.8 L1210.8 778.4 L1212.0 777.8 L1214.0 776.7 L1216.0 775.6 L1218.0 774.4 L1220.0 773.3 L1222.0 772.1 L1224.0 770.9 L1226.0 769.8 L1228.0 768.6 L1230.0 767.5 L1232.0 766.4 L1234.0 765.3 L1236.0 764.3 L1238.0 763.3 L1240.0 762.4 L1242.0 761.6 L1244.0 760.8 L1245.7 760.2 L1246.0 760.1 L1248.0 759.4 L1250.0 758.8 L1251.5 758.6 L1252.0 758.6 L1254.0 759.1 L1256.0 760.0 L1258.0 761.0 L1260.0 762.0 L1262.0 763.3 L1264.0 764.5 L1266.0 765.8 L1268.0 767.0 L1270.0 768.2 L1272.0 769.4 L1274.0 770.7 L1276.0 771.9 L1278.0 773.1 L1280.0 774.3 L1282.0 775.6 L1284.0 776.8 L1286.0 778.0 L1288.0 779.2 L1290.0 780.4 L1292.0 781.6 L1294.0 782.8 L1296.0 783.9 L1296.1 784.0 L1298.0 785.1 L1300.0 786.3 L1302.0 787.5 L1304.0 788.7 L1306.0 789.8 L1308.0 791.0 L1310.0 792.2 L1312.0 793.4 L1314.0 794.6 L1316.0 795.7 L1318.0 796.9 L1320.0 798.0 L1322.0 799.1 L1324.0 800.2 L1326.0 801.2 L1328.0 802.2 L1330.0 803.2 L1332.0 804.2 L1333.8 805.0 L1334.0 805.1 L1336.0 806.0 L1338.0 806.9 L1340.0 807.9 L1342.0 808.8 L1344.0 809.8 L1346.0 810.7 L1348.0 811.7 L1350.0 812.6 L1352.0 813.5 L1354.0 814.4 L1356.0 815.2 L1358.0 816.0 L1360.0 816.8 L1362.0 817.5 L1364.0 818.1 L1366.0 818.7 L1368.0 819.2 L1370.0 819.6 L1372.0 820.0 L1374.0 820.3 L1374.4 820.3 L1376.0 820.5 L1378.0 820.6 L1380.0 820.8 L1382.0 820.9 L1384.0 821.0 L1386.0 821.1 L1388.0 821.2 L1390.0 821.3 L1392.0 821.4 L1394.0 821.5 L1396.0 821.7 L1396.8 821.7 L1398.0 821.8 L1400.0 821.9 L1402.0 822.1 L1404.0 822.2 L1406.0 822.4 L1408.0 822.6 L1410.0 822.7 L1412.0 822.9 L1414.0 823.0 L1416.0 823.0 L1418.0 823.1 L1419.2 823.1 L1420.0 823.1 L1422.0 823.0 L1424.0 822.8 L1426.0 822.6 L1428.0 822.2 L1430.0 821.8 L1432.0 821.3 L1434.0 820.7 L1436.0 820.1 L1438.0 819.4 L1440.0 818.7 L1442.0 817.9 L1444.0 817.1 L1446.0 816.2 L1448.0 815.3 L1450.0 814.4 L1452.0 813.5 L1454.0 812.5 L1456.0 811.5 L1458.0 810.6 L1460.0 809.6 L1462.0 808.6 L1464.0 807.6 L1466.0 806.6 L1468.0 805.7 L1469.5 805.0 L1470.0 804.8 L1472.0 803.8 L1474.0 802.8 L1476.0 801.8 L1478.0 800.8 L1480.0 799.7 L1482.0 798.5 L1484.0 797.4 L1486.0 796.2 L1488.0 795.0 L1490.0 793.7 L1492.0 792.4 L1494.0 791.1 L1496.0 789.8 L1498.0 788.5 L1500.0 787.1 L1502.0 785.7 L1504.0 784.3 L1506.0 782.8 L1508.0 781.4 L1510.0 779.9 L1510.1 779.8 L1512.0 778.4 L1514.0 776.8 L1516.0 775.1 L1518.0 773.4 L1520.0 771.7 L1522.0 769.9 L1524.0 768.0 L1526.0 766.2 L1528.0 764.3 L1530.0 762.3 L1532.0 760.4 L1534.0 758.4 L1536.0 756.4 L1538.0 754.5 L1540.0 752.5 L1542.0 750.5 L1544.0 748.5 L1546.0 746.5 L1548.0 744.6 L1549.2 743.4 L1550.0 742.6 L1552.0 740.7 L1554.0 738.7 L1556.0 736.7 L1558.0 734.8 L1560.0 732.8 L1562.0 730.8 L1564.0 728.7 L1566.0 726.7 L1568.0 724.7 L1570.0 722.7 L1572.0 720.6 L1574.0 718.6 L1576.0 716.6 L1578.0 714.5 L1580.0 712.5 L1582.0 710.5 L1584.0 708.4 L1586.0 706.4 L1588.0 704.3 L1590.0 702.3 L1592.0 700.2 L1594.0 698.1 L1596.0 696.1 L1598.0 694.0 L1600.0 691.9 L1602.0 689.9 L1604.0 687.8 L1606.0 685.7 L1608.0 683.6 L1610.0 681.6 L1612.0 679.5 L1614.0 677.4 L1616.0 675.4 L1618.0 673.3 L1619.2 672.1 L1620.0 671.3 L1622.0 669.2 L1624.0 667.2 L1626.0 665.1 L1628.0 663.1 L1630.0 661.0 L1632.0 659.0 L1634.0 656.9 L1636.0 654.9 L1638.0 652.8 L1640.0 650.8 L1642.0 648.8 L1644.0 646.7 L1646.0 644.7 L1648.0 642.7 L1648.5 642.2 L1650.0 640.7 L1652.0 638.7 L1654.0 636.6 L1656.0 634.6 L1658.0 632.6 L1660.0 630.5 L1662.0 628.5 L1664.0 626.4 L1666.0 624.4 L1668.0 622.4 L1670.0 620.4 L1672.0 618.5 L1674.0 616.5 L1676.0 614.6 L1678.0 612.8 L1680.0 610.9 L1682.0 609.1 L1683.5 607.8 L1684.0 607.4 L1686.0 605.6 L1688.0 603.9 L1690.0 602.1 L1692.0 600.4 L1694.0 598.7 L1696.0 597.0 L1698.0 595.4 L1700.0 593.7 L1702.0 592.1 L1704.0 590.6 L1706.0 589.1 L1708.0 587.6 L1710.0 586.2 L1712.0 584.9 L1714.0 583.6 L1715.7 582.6 L1716.0 582.4 L1718.0 581.3 L1720.0 580.2 L1722.0 579.1 L1724.0 578.1 L1726.0 577.1 L1728.0 576.2 L1730.0 575.3 L1732.0 574.4 L1734.0 573.5 L1736.0 572.6 L1738.0 571.8 L1740.0 571.0 L1742.0 570.1 L1744.0 569.3 L1746.0 568.5 L1748.0 567.6 L1750.0 566.8 L1752.0 565.9 L1754.0 565.0 L1756.0 564.1 L1758.0 563.2 L1759.0 562.7 L1760.0 562.2 L1762.0 561.2 L1764.0 560.1 L1766.0 558.9 L1768.0 557.8 L1770.0 556.6 L1772.0 555.4 L1774.0 554.2 L1776.0 553.0 L1778.0 551.9 L1780.0 550.8 L1782.0 549.7 L1784.0 548.8 L1786.0 547.9 L1788.0 547.2 L1790.0 546.5 L1792.0 546.0 L1792.6 545.9 L1794.0 545.6 L1796.0 545.2 L1798.0 544.9 L1800.0 544.5 L1802.0 544.1 L1804.0 543.8 L1806.0 543.4 L1808.0 543.1 L1810.0 542.8 L1812.0 542.5 L1814.0 542.2 L1816.0 542.0 L1818.0 541.7 L1820.0 541.5 L1822.0 541.3 L1824.0 541.1 L1826.0 540.9 L1828.0 540.8 L1830.0 540.6 L1832.0 540.5 L1834.0 540.4 L1836.0 540.4 L1838.0 540.3 L1840.0 540.3 L1840.1 540.3 L1842.0 540.3 L1844.0 540.4 L1846.0 540.5 L1848.0 540.7 L1850.0 541.0 L1852.0 541.3 L1854.0 541.6 L1856.0 541.9 L1858.0 542.3 L1860.0 542.7 L1862.0 543.2 L1864.0 543.7 L1866.0 544.2 L1868.0 544.7 L1870.0 545.2 L1872.0 545.8 L1874.0 546.3 L1876.0 546.9 L1878.0 547.4 L1880.0 548.0 L1882.0 548.6 L1884.0 549.1 L1886.0 549.7 L1887.7 550.1 L1888.0 550.2 L1890.0 550.7 L1892.0 551.3 L1894.0 551.8 L1896.0 552.4 L1898.0 553.0 L1900.0 553.7 L1902.0 554.3 L1904.0 555.0 L1906.0 555.6 L1908.0 556.3 L1910.0 557.0 L1912.0 557.7 L1914.0 558.5 L1916.0 559.2 L1918.0 560.0 L1920.0 560.7 L1922.0 561.5 L1924.0 562.3 L1926.0 563.1 L1928.0 563.9 L1930.0 564.7 L1932.0 565.5 L1934.0 566.3 L1936.0 567.2 L1938.0 568.0 L1940.0 568.8 L1942.0 569.7 L1944.0 570.6 L1946.0 571.5 L1948.0 572.5 L1950.0 573.4 L1952.0 574.4 L1954.0 575.4 L1956.0 576.4 L1958.0 577.4 L1960.0 578.5 L1962.0 579.5 L1964.0 580.5 L1966.0 581.6 L1968.0 582.7 L1970.0 583.7 L1972.0 584.8 L1974.0 585.8 L1975.8 586.8 L1976.0 586.9 L1978.0 588.0 L1980.0 589.1 L1982.0 590.2 L1984.0 591.4 L1986.0 592.6 L1988.0 593.8 L1990.0 595.0 L1992.0 596.2 L1994.0 597.4 L1996.0 598.6 L1998.0 599.9 L2000.0 601.0 L2002.0 602.2 L2004.0 603.4 L2006.0 604.5 L2008.0 605.6 L2010.0 606.7 L2012.0 607.7 L2014.0 608.7 L2015.0 609.2 L2016.0 609.7 L2018.0 610.6 L2020.0 611.6 L2022.0 612.5 L2024.0 613.4 L2026.0 614.3 L2028.0 615.2 L2030.0 616.1 L2032.0 617.0 L2034.0 617.9 L2036.0 618.7 L2038.0 619.5 L2040.0 620.3 L2042.0 621.0 L2044.0 621.8 L2046.0 622.4 L2048.0 623.1 L2050.0 623.7 L2052.0 624.3 L2052.7 624.5 L2054.0 624.8 L2056.0 625.4 L2058.0 625.8 L2060.0 626.3 L2062.0 626.7 L2064.0 627.1 L2066.0 627.5 L2068.0 627.9 L2070.0 628.3 L2072.0 628.7 L2074.0 629.1 L2076.0 629.4 L2078.0 629.8 L2080.0 630.2 L2082.0 630.6 L2084.0 631.0 L2086.0 631.4 L2086.3 631.5 L2088.0 631.9 L2090.0 632.3 L2092.0 632.8 L2094.0 633.2 L2096.0 633.7 L2098.0 634.2 L2100.0 634.6 L2102.0 635.1 L2104.0 635.6 L2106.0 636.1 L2108.0 636.5 L2110.0 637.0 L2112.0 637.5 L2114.0 638.0 L2116.0 638.5" stroke="#ff0000" stroke-width="10.3" stroke-dasharray="5.3 54.0 39.0 54.0 39.0 54.0 39.0 56.0 35.0 61.0 40.8 55.1 41.0 64.3 33.0 56.3 36.2 59.9 33.0 65.2 35.0 58.7 38.8 59.5 38.0 59.9 38.2 62.8 33.0 64.1 36.5 50.5 37.6 61.1 40.7 60.4 41.0 58.8 35.1 56.1 33.7 53.7 33.0 54.0 41.0 59.3 37.1 51.9 33.5 41.7 39.0 5000.0" stroke-dashoffset="0.0" stroke-linecap="round"/>
<path id="b50" d="M390.0 1479.0 L392.0 1479.0 L394.0 1479.0 L396.0 1479.0 L398.0 1479.0 L400.0 1479.0 L402.0 1479.0 L404.0 1479.0 L406.0 1479.0 L408.0 1479.0 L410.0 1479.0 L412.0 1479.0 L414.0 1479.0 L416.0 1479.0 L418.0 1479.0 L420.0 1479.0 L422.0 1479.0 L424.0 1479.0 L426.0 1479.0 L428.0 1479.0 L430.0 1479.0 L432.0 1479.0 L434.0 1479.0 L436.0 1479.0 L438.0 1479.0 L440.0 1479.0 L442.0 1479.0 L444.0 1479.0 L446.0 1479.0 L448.0 1479.0 L450.0 1479.0 L452.0 1479.0 L454.0 1479.0 L456.0 1479.0 L458.0 1479.0 L460.0 1479.0 L462.0 1479.0 L464.0 1479.0 L466.0 1479.0 L468.0 1479.0 L470.0 1479.0 L472.0 1479.0 L474.0 1479.0 L476.0 1479.0 L478.0 1479.0 L480.0 1479.0 L482.0 1479.0 L484.0 1479.0 L486.0 1479.0 L488.0 1479.0 L490.0 1479.0 L492.0 1479.0 L494.0 1479.0 L496.0 1479.0 L498.0 1479.0 L500.0 1479.0 L502.0 1479.0 L504.0 1479.0 L506.0 1479.0 L508.0 1479.0 L510.0 1479.0 L512.0 1479.0 L514.0 1479.0 L516.0 1479.0 L518.0 1479.0 L520.0 1479.0 L522.0 1479.0 L524.0 1479.0 L526.0 1479.0 L528.0 1479.0 L530.0 1479.0 L532.0 1479.0 L534.0 1479.0 L536.0 1479.0 L538.0 1479.0 L540.0 1479.0 L542.0 1478.9 L544.0 1478.9 L546.0 1478.9 L548.0 1478.9 L550.0 1478.9 L552.0 1478.9 L554.0 1478.9 L556.0 1478.9 L558.0 1478.9 L560.0 1478.9 L562.0 1478.9 L564.0 1478.9 L566.0 1478.9 L568.0 1478.9 L570.0 1478.9 L572.0 1478.9 L574.0 1478.9 L576.0 1478.9 L578.0 1478.9 L580.0 1478.9 L582.0 1478.9 L584.0 1478.9 L586.0 1478.9 L588.0 1478.9 L590.0 1478.9 L592.0 1478.9 L594.0 1478.9 L596.0 1478.9 L598.0 1478.9 L600.0 1478.9 L602.0 1478.9 L604.0 1478.9 L606.0 1478.9 L608.0 1478.9 L610.0 1478.9 L612.0 1478.9 L614.0 1478.8 L616.0 1478.8 L618.0 1478.8 L620.0 1478.8 L622.0 1478.8 L624.0 1478.8 L626.0 1478.8 L628.0 1478.8 L630.0 1478.8 L632.0 1478.8 L634.0 1478.8 L636.0 1478.8 L638.0 1478.1 L640.0 1476.4 L642.0 1473.9 L644.0 1471.0 L646.0 1468.0 L648.0 1463.7 L650.0 1458.1 L652.0 1453.4 L653.7 1451.8 L654.0 1451.8 L656.0 1453.1 L658.0 1455.7 L660.0 1458.6 L662.0 1461.0 L664.0 1462.6 L666.0 1464.0 L668.0 1465.4 L670.0 1466.8 L670.9 1467.5 L672.0 1468.6 L674.0 1470.9 L676.0 1472.8 L677.4 1473.4 L678.0 1473.4 L680.0 1473.5 L682.0 1473.6 L684.0 1473.7 L686.0 1473.8 L688.0 1473.9 L690.0 1473.9 L692.0 1473.9 L694.0 1474.0 L696.0 1474.0 L698.0 1474.0 L700.0 1474.0 L702.0 1473.7 L704.0 1472.9 L706.0 1471.9 L708.0 1470.8 L710.0 1469.9 L712.0 1469.2 L712.2 1469.2 L714.0 1468.9 L716.0 1468.6 L718.0 1468.4 L720.0 1468.1 L722.0 1468.0 L724.0 1467.8 L726.0 1467.8 L726.1 1467.8 L728.0 1467.9 L730.0 1468.2 L732.0 1468.7 L734.0 1469.3 L736.0 1469.9 L738.0 1470.6 L740.0 1471.3 L742.0 1471.8 L744.0 1472.3 L746.0 1472.6 L747.0 1472.7 L748.0 1472.8 L750.0 1472.8 L752.0 1472.9 L754.0 1473.0 L756.0 1473.1 L758.0 1473.2 L760.0 1473.3 L762.0 1473.3 L764.0 1473.4 L766.0 1473.5 L768.0 1473.5 L770.0 1473.6 L772.0 1473.7 L774.0 1473.7 L776.0 1473.7 L778.0 1473.8 L780.0 1473.8 L782.0 1473.9 L784.0 1473.9 L786.0 1473.9 L788.0 1473.9 L790.0 1474.0 L792.0 1474.0 L794.0 1474.0 L796.0 1474.0 L798.0 1474.0 L799.6 1474.0 L800.0 1474.0 L802.0 1474.0 L804.0 1474.0 L806.0 1474.0 L808.0 1474.0 L810.0 1474.0 L812.0 1474.0 L814.0 1473.9 L816.0 1473.9 L818.0 1473.9 L820.0 1473.9 L822.0 1473.9 L824.0 1473.9 L826.0 1473.8 L828.0 1473.8 L830.0 1473.8 L832.0 1473.8 L834.0 1473.7 L836.0 1473.7 L838.0 1473.7 L840.0 1473.6 L842.0 1473.6 L844.0 1473.6 L846.0 1473.5 L848.0 1473.5 L850.0 1473.5 L852.0 1473.4 L854.0 1473.4 L856.0 1473.3 L858.0 1473.3 L860.0 1473.3 L862.0 1473.2 L864.0 1473.2 L866.0 1473.1 L868.0 1473.1 L870.0 1473.0 L872.0 1473.0 L874.0 1472.9 L876.0 1472.9 L878.0 1472.8 L880.0 1472.8 L882.0 1472.7 L883.5 1472.7 L884.0 1472.7 L886.0 1472.6 L888.0 1472.6 L890.0 1472.5 L892.0 1472.4 L894.0 1472.3 L896.0 1472.3 L898.0 1472.2 L900.0 1472.1 L902.0 1472.0 L904.0 1471.9 L906.0 1471.8 L908.0 1471.6 L910.0 1471.5 L912.0 1471.4 L914.0 1471.3 L916.0 1471.2 L918.0 1471.0 L920.0 1470.9 L922.0 1470.8 L924.0 1470.6 L926.0 1470.5 L928.0 1470.4 L930.0 1470.2 L932.0 1470.1 L934.0 1470.0 L936.0 1469.8 L938.0 1469.7 L939.4 1469.6 L940.0 1469.6 L942.0 1469.4 L944.0 1469.3 L946.0 1469.2 L948.0 1469.0 L950.0 1468.9 L952.0 1468.8 L954.0 1468.7 L956.0 1468.5 L958.0 1468.4 L960.0 1468.2 L962.0 1468.1 L964.0 1467.9 L966.0 1467.7 L968.0 1467.6 L970.0 1467.4 L972.0 1467.2 L974.0 1466.9 L976.0 1466.7 L978.0 1466.5 L980.0 1466.2 L982.0 1465.9 L984.0 1465.5 L986.0 1465.1 L988.0 1464.6 L990.0 1464.1 L992.0 1463.5 L994.0 1462.8 L996.0 1462.2 L998.0 1461.5 L1000.0 1460.7 L1002.0 1460.0 L1002.4 1459.8 L1004.0 1459.1 L1006.0 1458.2 L1008.0 1457.2 L1010.0 1456.1 L1012.0 1454.9 L1014.0 1453.6 L1016.0 1452.3 L1018.0 1450.9 L1019.2 1450.0 L1020.0 1449.4 L1022.0 1447.7 L1024.0 1445.9 L1026.0 1444.0 L1028.0 1441.9 L1030.0 1439.7 L1032.0 1437.3 L1033.1 1436.0 L1034.0 1434.9 L1036.0 1432.3 L1038.0 1429.4 L1040.0 1426.4 L1042.0 1423.1 L1044.0 1419.6 L1045.7 1416.4 L1046.0 1415.8 L1048.0 1411.6 L1050.0 1406.8 L1052.0 1401.6 L1054.0 1395.9 L1055.5 1391.3 L1056.0 1389.7 L1058.0 1382.6 L1060.0 1374.6 L1062.0 1366.1 L1063.9 1357.7 L1064.0 1357.3 L1066.0 1348.0 L1068.0 1338.3 L1070.0 1328.0 L1072.0 1317.3 L1072.3 1315.7 L1074.0 1306.4 L1076.0 1295.0 L1078.0 1282.7 L1079.3 1273.8 L1080.0 1268.6 L1082.0 1251.7 L1084.0 1233.3 L1085.7 1217.8 L1086.0 1215.1 L1088.0 1197.4 L1090.0 1179.5 L1091.9 1161.9 L1092.0 1160.9 L1094.0 1141.4 L1096.0 1121.1 L1097.5 1106.0 L1098.0 1100.9 L1100.0 1079.5 L1102.0 1059.2 L1103.1 1050.0 L1104.0 1043.7 L1106.0 1031.8 L1108.0 1020.6 L1108.5 1017.6 L1110.0 1008.0 L1112.0 994.8 L1114.0 981.5 L1116.0 968.4 L1117.1 961.6 L1118.0 956.2 L1120.0 944.5 L1122.0 933.2 L1124.0 922.1 L1126.0 910.8 L1126.9 905.7 L1128.0 899.4 L1130.0 887.8 L1132.0 876.3 L1134.0 864.7 L1136.0 853.1 L1136.6 849.7 L1138.0 841.7 L1140.0 830.3 L1142.0 818.9 L1144.0 807.5 L1146.0 796.1 L1146.4 793.8 L1148.0 784.7 L1150.0 773.2 L1152.0 761.8 L1154.0 750.4 L1156.0 738.9 L1156.2 737.8 L1158.0 727.5 L1160.0 716.1 L1162.0 704.7 L1164.0 693.3 L1166.0 681.9 L1168.0 670.7 L1170.0 659.8 L1172.0 648.7 L1174.0 637.1 L1175.8 626.0 L1176.0 624.7 L1178.0 610.0 L1180.0 595.4 L1180.5 592.3 L1182.0 584.1 L1184.0 574.4 L1185.6 566.7 L1186.0 564.7 L1188.0 554.6 L1190.0 544.7 L1190.8 541.0 L1192.0 535.8 L1194.0 527.5 L1195.3 521.8 L1196.0 518.4 L1198.0 507.9 L1199.1 502.6 L1200.0 498.8 L1202.0 491.1 L1204.0 484.0 L1204.2 483.3 L1206.0 477.1 L1208.0 470.7 L1209.4 466.7 L1210.0 465.1 L1212.0 460.0 L1214.0 455.7 L1215.1 453.8 L1216.0 452.5 L1218.0 449.9 L1220.0 447.8 L1221.5 446.8 L1222.0 446.6 L1224.0 445.6 L1226.0 445.0 L1227.3 444.9 L1228.0 444.9 L1230.0 445.3 L1232.0 446.1 L1233.7 446.8 L1234.0 446.9 L1236.0 448.3 L1238.0 450.2 L1240.0 452.5 L1240.1 452.6 L1242.0 455.1 L1244.0 458.4 L1246.0 461.9 L1247.2 464.1 L1248.0 465.6 L1250.0 469.4 L1252.0 473.5 L1254.0 477.6 L1254.9 479.5 L1256.0 481.8 L1258.0 486.1 L1260.0 490.5 L1262.0 494.9 L1262.6 496.2 L1264.0 499.2 L1266.0 503.5 L1268.0 507.8 L1270.0 512.1 L1270.3 512.8 L1272.0 516.5 L1274.0 521.0 L1276.0 525.4 L1277.9 529.5 L1278.0 529.7 L1280.0 533.8 L1282.0 537.9 L1284.0 541.8 L1285.6 544.9 L1286.0 545.7 L1288.0 549.4 L1290.0 553.1 L1292.0 556.7 L1293.3 559.0 L1294.0 560.2 L1296.0 563.7 L1298.0 567.1 L1300.0 570.3 L1301.0 571.8 L1302.0 573.3 L1304.0 576.1 L1306.0 578.8 L1308.0 581.3 L1308.7 582.1 L1310.0 583.6 L1312.0 585.7 L1314.0 587.7 L1316.0 589.4 L1316.4 589.7 L1318.0 590.9 L1320.0 592.2 L1322.0 593.4 L1324.0 594.2 L1324.1 594.2 L1326.0 594.8 L1328.0 595.2 L1330.0 595.5 L1330.5 595.5 L1332.0 595.4 L1334.0 595.2 L1336.0 594.8 L1338.0 594.3 L1338.2 594.2 L1340.0 593.5 L1342.0 592.4 L1344.0 591.0 L1345.9 589.7 L1346.0 589.6 L1348.0 588.2 L1350.0 586.6 L1352.0 584.8 L1354.0 583.0 L1354.9 582.1 L1356.0 581.0 L1358.0 578.9 L1360.0 576.6 L1362.0 574.1 L1363.8 571.8 L1364.0 571.5 L1366.0 568.8 L1368.0 565.9 L1370.0 562.8 L1371.5 560.3 L1372.0 559.4 L1374.0 555.6 L1376.0 551.4 L1377.9 547.4 L1378.0 547.2 L1380.0 543.0 L1382.0 538.7 L1384.0 534.4 L1385.6 530.8 L1386.0 529.9 L1388.0 525.3 L1390.0 520.6 L1392.0 515.9 L1393.3 512.8 L1394.0 511.2 L1396.0 506.5 L1398.0 501.9 L1400.0 497.2 L1401.0 494.9 L1402.0 492.6 L1404.0 487.9 L1406.0 483.2 L1408.0 478.5 L1408.7 476.9 L1410.0 473.9 L1412.0 469.2 L1414.0 464.6 L1416.0 459.9 L1418.0 455.2 L1420.0 450.5 L1422.0 445.8 L1424.0 441.0 L1425.0 438.6 L1426.0 436.2 L1428.0 431.2 L1430.0 426.1 L1432.0 421.0 L1434.0 416.0 L1435.5 412.4 L1436.0 411.2 L1438.0 406.4 L1440.0 401.6 L1442.0 397.0 L1444.0 392.4 L1446.0 388.1 L1446.9 386.2 L1448.0 384.0 L1450.0 380.0 L1452.0 376.1 L1454.0 372.4 L1456.0 368.9 L1458.0 365.5 L1458.2 365.2 L1460.0 362.4 L1462.0 359.4 L1464.0 356.5 L1466.0 353.8 L1468.0 351.2 L1468.7 350.3 L1470.0 348.7 L1472.0 346.3 L1474.0 344.0 L1476.0 341.9 L1478.0 340.0 L1478.3 339.8 L1480.0 338.4 L1482.0 336.9 L1484.0 335.5 L1486.0 334.4 L1487.9 333.7 L1488.0 333.7 L1490.0 333.1 L1492.0 332.7 L1494.0 332.3 L1496.0 332.1 L1497.6 332.0 L1498.0 332.0 L1500.0 332.1 L1502.0 332.4 L1504.0 332.8 L1506.0 333.2 L1508.0 333.7 L1510.0 334.4 L1512.0 335.4 L1514.0 336.6 L1516.0 338.0 L1518.0 339.4 L1518.5 339.8 L1520.0 340.9 L1522.0 342.6 L1524.0 344.4 L1526.0 346.4 L1528.0 348.4 L1529.0 349.4 L1530.0 350.4 L1532.0 352.6 L1534.0 354.9 L1536.0 357.2 L1538.0 359.7 L1540.0 362.1 L1540.4 362.6 L1542.0 364.6 L1544.0 367.1 L1546.0 369.6 L1548.0 372.2 L1550.0 375.0 L1551.7 377.4 L1552.0 377.8 L1554.0 380.9 L1556.0 384.2 L1558.0 387.6 L1560.0 391.1 L1562.0 394.6 L1562.2 394.9 L1564.0 398.1 L1566.0 401.6 L1568.0 405.3 L1570.0 408.9 L1571.9 412.4 L1572.0 412.6 L1574.0 416.3 L1576.0 420.0 L1578.0 423.7 L1580.0 427.4 L1582.0 431.2 L1583.2 433.4 L1584.0 434.9 L1586.0 438.6 L1588.0 442.3 L1590.0 445.9 L1592.0 449.6 L1594.0 453.3 L1595.5 456.1 L1596.0 457.0 L1598.0 460.8 L1600.0 464.5 L1602.0 468.3 L1604.0 472.1 L1606.0 475.7 L1607.7 478.8 L1608.0 479.3 L1610.0 482.9 L1612.0 486.4 L1614.0 489.8 L1616.0 493.2 L1618.0 496.5 L1619.9 499.5 L1620.0 499.7 L1622.0 502.7 L1624.0 505.6 L1626.0 508.5 L1628.0 511.3 L1630.0 514.0 L1632.0 516.7 L1634.0 519.3 L1636.0 521.9 L1638.0 524.5 L1640.0 527.0 L1642.0 529.6 L1644.0 532.1 L1646.0 534.6 L1648.0 537.1 L1650.0 539.4 L1650.5 540.0 L1652.0 541.7 L1654.0 543.9 L1656.0 546.0 L1658.0 548.0 L1660.0 549.9 L1662.0 551.7 L1662.7 552.3 L1664.0 553.3 L1666.0 554.9 L1668.0 556.4 L1670.0 557.7 L1672.0 559.0 L1674.0 560.2 L1675.0 560.8 L1676.0 561.4 L1678.0 562.5 L1680.0 563.5 L1682.0 564.5 L1684.0 565.4 L1686.0 566.2 L1687.2 566.6 L1688.0 566.9 L1690.0 567.5 L1692.0 568.1 L1694.0 568.7 L1696.0 569.1 L1698.0 569.5 L1699.4 569.6 L1700.0 569.6 L1702.0 569.8 L1704.0 569.9 L1706.0 570.0 L1708.0 570.0 L1710.0 570.1 L1711.7 570.1 L1712.0 570.1 L1714.0 570.0 L1716.0 569.8 L1718.0 569.5 L1720.0 569.2 L1722.0 568.8 L1723.9 568.4 L1724.0 568.4 L1726.0 567.9 L1728.0 567.3 L1730.0 566.5 L1732.0 565.7 L1734.0 564.9 L1736.0 564.0 L1737.9 563.1 L1738.0 563.1 L1740.0 562.1 L1742.0 561.1 L1744.0 560.0 L1746.0 558.8 L1748.0 557.6 L1750.0 556.4 L1751.9 555.2 L1752.0 555.1 L1754.0 553.8 L1756.0 552.4 L1758.0 551.0 L1760.0 549.5 L1762.0 547.9 L1764.0 546.3 L1765.9 544.8 L1766.0 544.7 L1768.0 543.1 L1770.0 541.4 L1772.0 539.7 L1774.0 537.9 L1776.0 536.1 L1778.0 534.3 L1779.9 532.5 L1780.0 532.4 L1782.0 530.5 L1784.0 528.6 L1786.0 526.6 L1788.0 524.5 L1790.0 522.5 L1792.0 520.4 L1793.8 518.5 L1794.0 518.3 L1796.0 516.1 L1798.0 513.9 L1800.0 511.7 L1802.0 509.5 L1804.0 507.2 L1806.0 504.9 L1807.8 502.8 L1808.0 502.6 L1810.0 500.3 L1812.0 497.9 L1814.0 495.6 L1816.0 493.2 L1818.0 490.8 L1820.0 488.4 L1821.8 486.2 L1822.0 486.0 L1824.0 483.5 L1826.0 481.0 L1828.0 478.5 L1830.0 476.0 L1832.0 473.5 L1834.0 471.0 L1835.8 468.7 L1836.0 468.4 L1838.0 465.9 L1840.0 463.4 L1842.0 460.9 L1844.0 458.4 L1846.0 455.9 L1848.0 453.4 L1849.8 451.2 L1850.0 450.9 L1852.0 448.4 L1854.0 445.9 L1856.0 443.4 L1858.0 440.9 L1860.0 438.4 L1862.0 435.9 L1863.8 433.7 L1864.0 433.5 L1866.0 431.0 L1868.0 428.5 L1870.0 425.9 L1872.0 423.5 L1874.0 421.0 L1876.0 418.5 L1877.8 416.3 L1878.0 416.1 L1880.0 413.6 L1882.0 411.2 L1884.0 408.8 L1886.0 406.4 L1888.0 404.0 L1890.0 401.7 L1891.7 399.7 L1892.0 399.4 L1894.0 397.0 L1896.0 394.7 L1898.0 392.4 L1900.0 390.2 L1902.0 387.9 L1904.0 385.7 L1905.7 383.9 L1906.0 383.6 L1908.0 381.5 L1910.0 379.4 L1912.0 377.4 L1914.0 375.5 L1916.0 373.5 L1918.0 371.5 L1919.7 369.9 L1920.0 369.6 L1922.0 367.7 L1924.0 365.7 L1926.0 363.8 L1928.0 361.9 L1930.0 360.0 L1932.0 358.2 L1933.7 356.8 L1934.0 356.6 L1936.0 354.9 L1938.0 353.3 L1940.0 351.7 L1942.0 350.2 L1944.0 348.8 L1946.0 347.4 L1947.7 346.3 L1948.0 346.1 L1950.0 344.9 L1952.0 343.6 L1954.0 342.5 L1956.0 341.3 L1958.0 340.3 L1960.0 339.3 L1961.7 338.5 L1962.0 338.4 L1964.0 337.5 L1966.0 336.6 L1968.0 335.7 L1970.0 334.9 L1972.0 334.2 L1974.0 333.6 L1975.7 333.2 L1976.0 333.1 L1978.0 332.7 L1980.0 332.3 L1982.0 331.9 L1984.0 331.6 L1986.0 331.3 L1988.0 331.1 L1989.7 331.1 L1990.0 331.1 L1992.0 331.1 L1994.0 331.2 L1996.0 331.3 L1998.0 331.4 L2000.0 331.5 L2002.0 331.7 L2004.0 331.9 L2006.0 332.2 L2008.0 332.5 L2010.0 332.9 L2012.0 333.4 L2014.0 334.0 L2016.0 334.8 L2018.0 335.5 L2020.0 336.4 L2022.0 337.4 L2024.0 338.4 L2026.0 339.4 L2027.6 340.3 L2028.0 340.5 L2030.0 341.8 L2032.0 343.3 L2034.0 345.1 L2036.0 346.9 L2038.0 348.9 L2040.0 351.0 L2042.0 353.1 L2044.0 355.2 L2046.0 357.4 L2047.1 358.5 L2048.0 359.4 L2050.0 361.5 L2052.0 363.7 L2054.0 365.9 L2056.0 368.2 L2058.0 370.5 L2060.0 372.8 L2062.0 375.2 L2064.0 377.6 L2066.0 380.0 L2066.7 380.9 L2068.0 382.5 L2070.0 385.0 L2072.0 387.6 L2074.0 390.2 L2076.0 392.8 L2078.0 395.5 L2080.0 398.3 L2082.0 401.1 L2083.5 403.3 L2084.0 404.0 L2086.0 407.2 L2088.0 410.6 L2090.0 414.1 L2092.0 417.6 L2094.0 420.9 L2096.0 423.8 L2097.5 425.7 L2098.0 426.3 L2100.0 428.6 L2102.0 430.8 L2104.0 432.9 L2106.0 434.9 L2108.0 436.7 L2110.0 438.4 L2112.0 439.9 L2114.0 441.3 L2116.0 442.4" stroke="#0000ff" stroke-width="10.5" stroke-linecap="round"/>
<path id="t100" d="M390.0 1479.0 L392.0 1479.0 L394.0 1479.0 L396.0 1479.0 L398.0 1479.0 L400.0 1479.0 L402.0 1479.0 L404.0 1479.0 L406.0 1479.0 L408.0 1479.0 L410.0 1479.0 L412.0 1479.0 L414.0 1479.0 L416.0 1479.0 L418.0 1479.0 L420.0 1479.0 L422.0 1479.0 L424.0 1479.0 L426.0 1479.0 L428.0 1479.0 L430.0 1479.0 L432.0 1479.0 L434.0 1479.0 L436.0 1479.0 L438.0 1479.0 L440.0 1479.0 L442.0 1479.0 L444.0 1479.0 L446.0 1479.0 L448.0 1479.0 L450.0 1479.0 L452.0 1479.0 L454.0 1479.0 L456.0 1479.0 L458.0 1479.0 L460.0 1479.0 L462.0 1479.0 L464.0 1479.0 L466.0 1479.0 L468.0 1479.0 L470.0 1479.0 L472.0 1479.0 L474.0 1479.0 L476.0 1479.0 L478.0 1479.0 L480.0 1479.0 L482.0 1479.0 L484.0 1479.0 L486.0 1479.0 L488.0 1479.0 L490.0 1479.0 L492.0 1479.0 L494.0 1479.0 L496.0 1479.0 L498.0 1479.0 L500.0 1479.0 L502.0 1479.0 L504.0 1479.0 L506.0 1479.0 L508.0 1479.0 L510.0 1479.0 L512.0 1479.0 L514.0 1479.0 L516.0 1479.0 L518.0 1479.0 L520.0 1479.0 L522.0 1479.0 L524.0 1479.0 L526.0 1479.0 L528.0 1479.0 L530.0 1479.0 L532.0 1479.0 L534.0 1479.0 L536.0 1479.0 L538.0 1479.0 L540.0 1479.0 L542.0 1479.0 L544.0 1479.0 L546.0 1479.0 L548.0 1479.0 L550.0 1479.0 L552.0 1479.0 L554.0 1479.0 L556.0 1479.0 L558.0 1479.0 L560.0 1479.0 L562.0 1479.0 L564.0 1479.0 L566.0 1479.0 L568.0 1479.0 L570.0 1479.0 L572.0 1479.0 L574.0 1479.0 L576.0 1479.0 L578.0 1479.0 L580.0 1479.0 L582.0 1479.0 L584.0 1479.0 L586.0 1479.0 L588.0 1479.0 L590.0 1479.0 L592.0 1479.0 L594.0 1479.0 L596.0 1479.0 L598.0 1479.0 L600.0 1479.0 L602.0 1479.0 L603.8 1479.0 L604.0 1479.0 L606.0 1478.2 L608.0 1476.6 L609.9 1475.4 L610.0 1475.4 L612.0 1474.5 L614.0 1473.7 L616.0 1473.0 L618.0 1472.3 L620.0 1471.6 L622.0 1471.0 L624.0 1470.5 L626.0 1469.9 L628.0 1469.4 L630.0 1468.9 L632.0 1468.4 L634.0 1467.8 L636.0 1467.3 L638.0 1466.7 L640.0 1466.0 L642.0 1465.4 L644.0 1464.7 L646.0 1463.9 L648.0 1463.0 L649.6 1462.3 L650.0 1462.1 L652.0 1460.9 L654.0 1459.5 L656.0 1457.9 L658.0 1456.5 L659.7 1455.5 L660.0 1455.3 L662.0 1454.2 L664.0 1453.3 L664.9 1453.2 L666.0 1453.3 L668.0 1454.2 L670.0 1455.6 L672.0 1457.2 L674.0 1458.6 L676.0 1459.5 L678.0 1460.0 L680.0 1460.5 L682.0 1461.0 L684.0 1461.4 L686.0 1461.8 L688.0 1462.1 L690.0 1462.4 L692.0 1462.7 L694.0 1462.8 L696.0 1463.0 L698.0 1463.0 L698.3 1463.0 L700.0 1462.9 L702.0 1462.7 L704.0 1462.4 L706.0 1462.0 L708.0 1461.4 L710.0 1460.8 L712.0 1460.1 L714.0 1459.3 L716.0 1458.5 L718.0 1457.7 L720.0 1456.8 L722.0 1456.0 L724.0 1455.1 L726.0 1454.3 L728.0 1453.5 L730.0 1452.8 L732.0 1452.1 L734.0 1451.5 L736.0 1451.0 L738.0 1450.7 L740.0 1450.4 L742.0 1450.2 L744.0 1450.1 L746.0 1449.9 L748.0 1449.8 L750.0 1449.7 L752.0 1449.6 L754.0 1449.5 L756.0 1449.4 L758.0 1449.3 L760.0 1449.2 L762.0 1449.1 L764.0 1449.0 L766.0 1448.9 L768.0 1448.8 L770.0 1448.7 L772.0 1448.5 L773.4 1448.4 L774.0 1448.3 L776.0 1448.1 L778.0 1447.9 L780.0 1447.6 L782.0 1447.2 L784.0 1446.8 L786.0 1446.4 L788.0 1446.0 L790.0 1445.6 L792.0 1445.1 L794.0 1444.7 L796.0 1444.2 L798.0 1443.8 L800.0 1443.3 L802.0 1442.8 L804.0 1442.4 L805.4 1442.1 L806.0 1442.0 L808.0 1441.6 L810.0 1441.1 L812.0 1440.7 L814.0 1440.3 L816.0 1439.9 L818.0 1439.5 L820.0 1439.0 L822.0 1438.6 L824.0 1438.2 L826.0 1437.7 L828.0 1437.3 L830.0 1436.9 L832.0 1436.4 L834.0 1436.0 L836.0 1435.5 L838.0 1435.1 L840.0 1434.6 L842.0 1434.1 L844.0 1433.7 L846.0 1433.2 L848.0 1432.7 L850.0 1432.2 L852.0 1431.7 L854.0 1431.1 L856.0 1430.6 L858.0 1430.1 L859.7 1429.6 L860.0 1429.5 L862.0 1428.9 L864.0 1428.3 L866.0 1427.7 L868.0 1427.1 L870.0 1426.4 L872.0 1425.7 L874.0 1425.1 L876.0 1424.4 L878.0 1423.7 L880.0 1422.9 L882.0 1422.2 L884.0 1421.5 L886.0 1420.8 L888.0 1420.1 L890.0 1419.4 L890.5 1419.2 L892.0 1418.7 L894.0 1418.0 L896.0 1417.3 L898.0 1416.6 L900.0 1415.9 L902.0 1415.2 L904.0 1414.5 L906.0 1413.7 L908.0 1413.0 L910.0 1412.3 L912.0 1411.6 L914.0 1410.8 L916.0 1410.1 L918.0 1409.3 L920.0 1408.6 L922.0 1407.8 L922.7 1407.5 L924.0 1407.0 L926.0 1406.2 L928.0 1405.5 L930.0 1404.7 L932.0 1404.0 L934.0 1403.3 L936.0 1402.5 L938.0 1401.8 L940.0 1401.1 L942.0 1400.3 L944.0 1399.6 L946.0 1398.8 L948.0 1398.0 L950.0 1397.2 L952.0 1396.4 L954.0 1395.5 L956.0 1394.7 L958.0 1393.8 L960.0 1392.8 L962.0 1391.8 L964.0 1390.8 L966.0 1389.8 L968.0 1388.7 L970.0 1387.5 L972.0 1386.3 L973.0 1385.7 L974.0 1385.1 L976.0 1383.7 L978.0 1382.2 L980.0 1380.5 L982.0 1378.8 L984.0 1376.9 L986.0 1375.0 L988.0 1372.9 L990.0 1370.8 L992.0 1368.5 L994.0 1366.2 L996.0 1363.8 L998.0 1361.4 L998.7 1360.5 L1000.0 1358.8 L1002.0 1356.1 L1004.0 1353.2 L1006.0 1350.1 L1008.0 1346.7 L1010.0 1343.2 L1012.0 1339.5 L1014.0 1335.6 L1015.5 1332.5 L1016.0 1331.4 L1018.0 1326.9 L1020.0 1322.0 L1022.0 1316.8 L1024.0 1311.2 L1026.0 1305.2 L1028.0 1299.1 L1030.0 1292.6 L1032.0 1286.0 L1032.3 1285.0 L1034.0 1279.0 L1036.0 1271.2 L1038.0 1262.9 L1040.0 1254.4 L1040.7 1251.4 L1042.0 1245.9 L1044.0 1237.2 L1046.0 1228.0 L1048.0 1217.8 L1050.0 1205.8 L1052.0 1192.1 L1054.0 1177.9 L1055.5 1167.5 L1056.0 1164.1 L1058.0 1150.3 L1060.0 1136.6 L1060.6 1132.5 L1062.0 1123.5 L1064.0 1111.1 L1065.9 1097.6 L1066.0 1096.8 L1068.0 1077.4 L1070.0 1056.5 L1070.9 1048.5 L1072.0 1040.7 L1074.0 1028.9 L1075.9 1014.8 L1076.0 1013.8 L1078.0 986.5 L1078.7 977.0 L1080.0 961.9 L1082.0 940.4 L1083.5 925.2 L1084.0 920.2 L1086.0 901.2 L1087.1 891.1 L1088.0 883.2 L1090.0 866.1 L1091.0 856.7 L1092.0 845.9 L1094.0 821.8 L1095.5 805.0 L1096.0 800.1 L1098.0 782.2 L1099.4 770.0 L1100.0 764.7 L1102.0 747.1 L1103.1 736.4 L1104.0 726.0 L1106.0 699.8 L1107.3 684.7 L1108.0 678.1 L1110.0 662.0 L1111.5 649.7 L1112.0 645.1 L1114.0 625.7 L1115.1 614.8 L1116.0 605.9 L1118.0 586.0 L1119.9 567.5 L1120.0 566.6 L1122.0 547.5 L1124.0 530.0 L1124.1 529.2 L1126.0 515.9 L1128.0 503.1 L1129.1 495.6 L1130.0 488.9 L1132.0 472.7 L1134.0 456.6 L1135.8 443.8 L1136.0 442.5 L1138.0 430.6 L1140.0 419.9 L1142.0 409.9 L1142.2 408.9 L1144.0 400.1 L1146.0 390.5 L1148.0 381.9 L1149.8 375.3 L1150.0 374.7 L1152.0 368.7 L1154.0 363.6 L1156.0 358.9 L1158.0 354.3 L1160.0 349.5 L1162.0 344.3 L1164.0 339.1 L1166.0 333.9 L1168.0 328.8 L1170.0 324.1 L1170.2 323.6 L1172.0 319.2 L1174.0 314.8 L1175.0 313.5 L1176.0 312.7 L1178.0 311.4 L1179.5 311.0 L1180.0 311.1 L1182.0 312.5 L1184.0 314.5 L1186.0 316.7 L1188.0 319.2 L1190.0 322.0 L1192.0 325.0 L1194.0 327.9 L1194.5 328.6 L1196.0 330.7 L1198.0 333.5 L1200.0 336.3 L1202.0 339.1 L1204.0 342.1 L1206.0 345.1 L1208.0 348.2 L1210.0 351.5 L1210.8 352.9 L1212.0 355.0 L1214.0 358.8 L1216.0 362.8 L1218.0 367.0 L1220.0 371.3 L1222.0 375.7 L1224.0 380.3 L1226.0 384.8 L1228.0 389.3 L1230.0 393.8 L1232.0 398.1 L1233.1 400.5 L1234.0 402.4 L1236.0 406.7 L1238.0 411.0 L1240.0 415.3 L1242.0 419.5 L1244.0 423.7 L1246.0 427.9 L1247.7 431.3 L1248.0 431.9 L1250.0 435.9 L1252.0 439.8 L1254.0 443.6 L1256.0 447.4 L1258.0 451.2 L1260.0 454.9 L1262.0 458.6 L1263.9 462.0 L1264.0 462.2 L1266.0 465.8 L1268.0 469.4 L1270.0 473.0 L1272.0 476.5 L1274.0 480.1 L1276.0 483.6 L1278.0 487.0 L1280.0 490.4 L1282.0 493.8 L1284.0 497.0 L1286.0 500.1 L1288.0 503.2 L1290.0 506.1 L1290.5 506.8 L1292.0 508.9 L1294.0 511.7 L1296.0 514.4 L1298.0 517.1 L1300.0 519.7 L1302.0 522.3 L1304.0 524.7 L1306.0 527.0 L1308.0 529.3 L1310.0 531.4 L1312.0 533.4 L1312.9 534.2 L1314.0 535.2 L1316.0 537.1 L1318.0 539.1 L1320.0 541.0 L1322.0 542.8 L1324.0 544.6 L1326.0 546.3 L1328.0 547.8 L1330.0 549.1 L1332.0 550.2 L1334.0 550.9 L1336.0 551.4 L1336.6 551.5 L1338.0 551.6 L1340.0 551.8 L1342.0 552.0 L1344.0 552.1 L1346.0 552.3 L1348.0 552.4 L1350.0 552.5 L1352.0 552.6 L1354.0 552.7 L1356.0 552.8 L1358.0 552.8 L1360.0 552.9 L1362.0 552.9 L1363.2 552.9 L1364.0 552.9 L1366.0 552.9 L1368.0 552.9 L1370.0 552.9 L1372.0 552.9 L1374.0 552.9 L1376.0 552.9 L1378.0 552.9 L1380.0 552.9 L1382.0 552.9 L1384.0 552.9 L1386.0 552.9 L1388.0 552.9 L1389.8 552.9 L1390.0 552.9 L1392.0 552.7 L1394.0 552.2 L1396.0 551.5 L1398.0 550.5 L1400.0 549.3 L1402.0 548.0 L1404.0 546.5 L1406.0 544.9 L1408.0 543.2 L1410.0 541.5 L1412.0 539.8 L1414.0 538.1 L1416.0 536.4 L1418.0 534.8 L1419.2 533.9 L1420.0 533.3 L1422.0 531.8 L1424.0 530.2 L1426.0 528.6 L1428.0 527.0 L1430.0 525.3 L1432.0 523.6 L1434.0 521.8 L1436.0 520.1 L1438.0 518.3 L1440.0 516.4 L1442.0 514.6 L1444.0 512.7 L1444.3 512.4 L1446.0 510.8 L1448.0 508.8 L1450.0 506.8 L1452.0 504.8 L1454.0 502.8 L1456.0 500.7 L1458.0 498.6 L1460.0 496.4 L1462.0 494.3 L1464.0 492.1 L1466.0 489.9 L1468.0 487.6 L1470.0 485.4 L1472.0 483.1 L1474.0 480.9 L1476.0 478.6 L1478.0 476.3 L1480.0 474.0 L1480.7 473.2 L1482.0 471.7 L1484.0 469.4 L1486.0 467.0 L1488.0 464.7 L1490.0 462.3 L1492.0 459.8 L1494.0 457.4 L1496.0 454.9 L1498.0 452.3 L1500.0 449.8 L1500.3 449.4 L1502.0 447.2 L1504.0 444.4 L1506.0 441.7 L1508.0 438.8 L1510.0 436.0 L1512.0 433.2 L1514.0 430.4 L1516.0 427.6 L1518.0 424.9 L1518.5 424.3 L1520.0 422.4 L1522.0 419.9 L1524.0 417.4 L1526.0 415.0 L1528.0 412.6 L1530.0 410.2 L1532.0 407.8 L1534.0 405.5 L1536.0 403.2 L1538.0 400.9 L1540.0 398.6 L1542.0 396.3 L1544.0 393.9 L1546.0 391.6 L1548.0 389.2 L1550.0 386.8 L1552.0 384.4 L1554.0 381.9 L1554.8 380.9 L1556.0 379.4 L1558.0 376.7 L1560.0 374.0 L1562.0 371.3 L1564.0 368.5 L1566.0 365.8 L1568.0 363.2 L1570.0 360.6 L1572.0 358.2 L1573.0 357.0 L1574.0 355.9 L1576.0 353.7 L1578.0 351.5 L1580.0 349.4 L1582.0 347.4 L1584.0 345.4 L1586.0 343.4 L1588.0 341.5 L1590.0 339.6 L1592.0 337.7 L1594.0 335.8 L1596.0 333.9 L1598.0 332.1 L1599.6 330.6 L1600.0 330.2 L1602.0 328.4 L1604.0 326.5 L1606.0 324.6 L1608.0 322.8 L1610.0 320.9 L1612.0 319.1 L1614.0 317.2 L1616.0 315.4 L1618.0 313.6 L1620.0 311.9 L1622.0 310.2 L1624.0 308.5 L1626.0 306.8 L1628.0 305.2 L1630.0 303.6 L1632.0 302.1 L1634.0 300.7 L1634.5 300.3 L1636.0 299.2 L1638.0 297.8 L1640.0 296.4 L1642.0 295.0 L1644.0 293.7 L1646.0 292.3 L1648.0 291.1 L1650.0 289.8 L1652.0 288.6 L1654.0 287.5 L1656.0 286.4 L1658.0 285.4 L1660.0 284.5 L1662.0 283.6 L1664.0 282.8 L1666.0 281.9 L1668.0 281.1 L1670.0 280.3 L1672.0 279.5 L1674.0 278.7 L1676.0 277.9 L1678.0 277.2 L1680.0 276.6 L1682.0 276.0 L1684.0 275.5 L1686.0 275.1 L1688.0 274.8 L1690.0 274.7 L1691.9 274.6 L1692.0 274.6 L1694.0 274.6 L1696.0 274.7 L1698.0 274.7 L1700.0 274.9 L1702.0 275.0 L1704.0 275.1 L1706.0 275.3 L1708.0 275.4 L1710.0 275.6 L1712.0 275.8 L1714.0 276.0 L1714.3 276.0 L1716.0 276.2 L1718.0 276.4 L1720.0 276.6 L1722.0 276.8 L1724.0 277.1 L1726.0 277.4 L1728.0 277.7 L1730.0 278.0 L1732.0 278.3 L1734.0 278.7 L1736.0 279.1 L1738.0 279.5 L1740.0 279.9 L1742.0 280.3 L1744.0 280.8 L1745.0 281.0 L1746.0 281.2 L1748.0 281.8 L1750.0 282.4 L1752.0 283.1 L1754.0 283.8 L1756.0 284.6 L1758.0 285.4 L1760.0 286.3 L1762.0 287.2 L1764.0 288.2 L1766.0 289.1 L1768.0 290.1 L1770.0 291.1 L1772.0 292.2 L1774.0 293.2 L1776.0 294.2 L1778.0 295.3 L1778.6 295.6 L1780.0 296.3 L1782.0 297.4 L1784.0 298.6 L1786.0 299.8 L1788.0 301.0 L1790.0 302.2 L1792.0 303.5 L1794.0 304.8 L1796.0 306.1 L1798.0 307.5 L1800.0 308.8 L1802.0 310.2 L1804.0 311.6 L1806.0 312.9 L1808.0 314.3 L1809.4 315.2 L1810.0 315.6 L1812.0 316.9 L1814.0 318.3 L1816.0 319.6 L1818.0 321.0 L1820.0 322.3 L1822.0 323.7 L1824.0 325.0 L1826.0 326.4 L1828.0 327.8 L1830.0 329.2 L1832.0 330.5 L1834.0 332.0 L1836.0 333.4 L1838.0 334.8 L1840.0 336.3 L1842.0 337.7 L1844.0 339.2 L1846.0 340.7 L1848.0 342.2 L1850.0 343.8 L1852.0 345.3 L1852.7 345.9 L1854.0 346.9 L1856.0 348.6 L1858.0 350.3 L1860.0 352.0 L1862.0 353.8 L1864.0 355.5 L1866.0 357.3 L1868.0 359.1 L1870.0 361.0 L1872.0 362.7 L1874.0 364.5 L1875.1 365.5 L1876.0 366.3 L1878.0 368.1 L1880.0 369.8 L1882.0 371.6 L1884.0 373.4 L1886.0 375.2 L1888.0 376.9 L1890.0 378.7 L1892.0 380.5 L1894.0 382.2 L1896.0 384.0 L1898.0 385.7 L1898.9 386.5 L1900.0 387.4 L1902.0 389.2 L1904.0 390.9 L1906.0 392.6 L1908.0 394.3 L1910.0 396.0 L1912.0 397.7 L1914.0 399.5 L1916.0 401.2 L1918.0 402.8 L1920.0 404.5 L1922.0 406.2 L1924.0 407.9 L1926.0 409.5 L1928.0 411.2 L1930.0 412.8 L1932.0 414.5 L1934.0 416.1 L1936.0 417.7 L1938.0 419.3 L1940.0 420.9 L1940.8 421.5 L1942.0 422.4 L1944.0 424.0 L1946.0 425.5 L1948.0 427.0 L1950.0 428.5 L1952.0 430.0 L1954.0 431.5 L1956.0 433.0 L1958.0 434.5 L1960.0 435.9 L1962.0 437.4 L1964.0 438.8 L1966.0 440.3 L1968.0 441.7 L1968.3 441.9 L1970.0 443.1 L1972.0 444.7 L1974.0 446.2 L1976.0 447.8 L1978.0 449.4 L1980.0 451.0 L1982.0 452.5 L1984.0 453.9 L1986.0 455.3 L1988.0 456.5 L1990.0 457.6 L1992.0 458.5 L1992.6 458.7 L1994.0 459.2 L1996.0 459.9 L1998.0 460.6 L2000.0 461.3 L2002.0 461.9 L2004.0 462.5 L2006.0 463.1 L2008.0 463.7 L2010.0 464.2 L2012.0 464.7 L2014.0 465.2 L2016.0 465.7 L2018.0 466.2 L2020.0 466.6 L2022.0 467.0 L2024.0 467.4 L2026.0 467.8 L2028.0 468.2 L2030.0 468.5 L2032.0 468.9 L2034.0 469.2 L2036.0 469.5 L2038.0 469.8 L2038.7 469.9 L2040.0 470.1 L2042.0 470.4 L2044.0 470.7 L2046.0 470.9 L2048.0 471.0 L2050.0 470.7 L2052.0 469.8 L2054.0 468.4 L2056.0 466.7 L2058.0 464.8 L2060.0 462.9 L2062.0 460.9 L2063.9 459.2 L2064.0 459.1 L2066.0 457.4 L2068.0 455.5 L2070.0 453.5 L2072.0 451.5 L2074.0 449.4 L2076.0 447.4 L2078.0 445.3 L2080.0 443.2 L2082.0 441.2 L2083.5 439.7 L2084.0 439.2 L2086.0 437.3 L2088.0 435.3 L2090.0 433.4 L2092.0 431.5 L2094.0 429.6 L2096.0 427.6 L2098.0 425.7 L2100.0 423.8 L2102.0 421.9 L2104.0 420.1 L2106.0 418.2 L2108.0 416.3 L2110.0 414.4 L2112.0 412.6 L2114.0 410.7 L2116.0 408.9" stroke="#008080" stroke-width="10.3" stroke-dasharray="0.001 30.3 7.0 32.0 49.0 32.0 7.0 32.0 49.0 32.0 7.0 32.0 49.0 32.0 7.0 32.4 49.0 32.4 7.0 34.5 49.0 34.5 7.0 30.6 49.0 30.6 7.0 32.4 49.0 32.4 7.0 32.2 49.0 32.2 7.0 33.2 49.0 33.2 7.0 33.8 49.0 33.8 7.0 32.0 49.0 32.0 7.0 32.2 49.0 32.2 7.0 32.7 49.0 32.7 7.0 37.5 49.0 37.5 7.0 29.7 49.0 29.7 7.0 33.4 49.0 33.4 7.0 31.1 49.0 31.1 7.0 31.0 49.0 31.0 7.0 31.0 49.0 31.0 7.0 29.6 49.0 29.6 7.0 32.8 49.0 32.8 7.0 31.7 49.0 31.7 7.0 32.5 49.0 32.5 7.0 25.3 49.0 25.3 7.0 25.3 49.0 9000.0" stroke-dashoffset="0.0" stroke-linecap="round"/>
<path id="m150" d="M390.0 1479.0 L392.0 1479.0 L394.0 1479.0 L396.0 1479.0 L398.0 1479.0 L400.0 1479.0 L402.0 1479.0 L404.0 1479.0 L406.0 1479.0 L408.0 1479.0 L410.0 1479.0 L412.0 1479.0 L414.0 1479.0 L416.0 1479.0 L418.0 1479.0 L420.0 1479.0 L422.0 1479.0 L424.0 1479.0 L426.0 1479.0 L428.0 1479.0 L430.0 1479.0 L432.0 1479.0 L434.0 1479.0 L436.0 1479.0 L438.0 1479.0 L440.0 1479.0 L442.0 1479.0 L444.0 1479.0 L446.0 1479.0 L448.0 1479.0 L450.0 1479.0 L452.0 1479.0 L454.0 1478.9 L456.0 1478.9 L458.0 1478.9 L460.0 1478.9 L462.0 1478.9 L464.0 1478.9 L466.0 1478.9 L468.0 1478.9 L470.0 1478.9 L472.0 1478.9 L474.0 1478.9 L476.0 1478.9 L478.0 1478.9 L480.0 1478.9 L482.0 1478.9 L484.0 1478.9 L486.0 1478.9 L488.0 1478.9 L490.0 1478.9 L492.0 1478.9 L494.0 1478.9 L496.0 1478.8 L498.0 1478.8 L500.0 1478.8 L502.0 1478.8 L504.0 1478.8 L506.0 1478.8 L508.0 1478.8 L510.0 1478.8 L512.0 1478.8 L514.0 1478.8 L516.0 1478.8 L518.0 1478.8 L520.0 1478.8 L522.0 1478.7 L524.0 1478.7 L526.0 1478.7 L528.0 1478.7 L530.0 1478.7 L532.0 1478.7 L534.0 1478.7 L536.0 1478.7 L538.0 1478.7 L540.0 1478.7 L542.0 1478.6 L544.0 1478.6 L546.0 1478.6 L548.0 1478.6 L550.0 1478.6 L552.0 1478.6 L554.0 1478.6 L556.0 1478.6 L558.0 1478.5 L560.0 1478.5 L562.0 1478.5 L564.0 1478.5 L566.0 1478.5 L568.0 1478.5 L570.0 1478.5 L572.0 1478.5 L574.0 1478.4 L576.0 1478.4 L578.0 1478.4 L580.0 1478.4 L582.0 1478.4 L584.0 1478.4 L586.0 1478.4 L588.0 1478.3 L590.0 1478.3 L592.0 1478.3 L594.0 1478.3 L596.0 1478.3 L598.0 1478.3 L600.0 1478.2 L602.0 1478.2 L603.7 1478.2 L604.0 1478.2 L606.0 1478.2 L608.0 1478.1 L610.0 1478.1 L612.0 1478.0 L614.0 1477.9 L616.0 1477.8 L618.0 1477.7 L620.0 1477.6 L622.0 1477.4 L624.0 1477.3 L626.0 1477.1 L628.0 1477.0 L629.8 1476.8 L630.0 1476.8 L632.0 1476.6 L634.0 1476.4 L636.0 1476.1 L638.0 1475.8 L640.0 1475.5 L642.0 1475.1 L644.0 1474.6 L646.0 1474.1 L648.0 1473.4 L650.0 1472.7 L651.7 1472.0 L652.0 1471.8 L654.0 1468.9 L656.0 1464.6 L658.0 1461.0 L659.3 1460.2 L660.0 1460.2 L662.0 1460.6 L664.0 1461.3 L666.0 1462.2 L668.0 1463.3 L670.0 1464.5 L672.0 1465.8 L674.0 1466.9 L676.0 1467.9 L678.0 1468.7 L680.0 1469.1 L681.2 1469.2 L682.0 1469.2 L684.0 1469.2 L686.0 1469.2 L688.0 1469.1 L690.0 1469.1 L692.0 1469.0 L694.0 1469.0 L696.0 1468.9 L698.0 1468.8 L700.0 1468.7 L702.0 1468.6 L704.0 1468.5 L704.3 1468.5 L706.0 1468.2 L708.0 1467.2 L710.0 1465.9 L712.0 1464.4 L714.0 1462.9 L716.0 1461.7 L718.0 1460.8 L719.8 1460.5 L720.0 1460.5 L722.0 1460.5 L724.0 1460.7 L726.0 1460.8 L728.0 1461.0 L730.0 1461.3 L732.0 1461.5 L734.0 1461.8 L736.0 1462.0 L738.0 1462.3 L740.0 1462.5 L742.0 1462.6 L744.0 1462.7 L745.3 1462.7 L746.0 1462.7 L748.0 1462.7 L750.0 1462.7 L752.0 1462.7 L754.0 1462.6 L756.0 1462.6 L758.0 1462.6 L760.0 1462.5 L762.0 1462.5 L764.0 1462.5 L766.0 1462.4 L768.0 1462.4 L770.0 1462.3 L770.9 1462.3 L772.0 1462.3 L774.0 1462.2 L776.0 1462.1 L778.0 1462.0 L780.0 1461.9 L782.0 1461.8 L784.0 1461.6 L786.0 1461.5 L788.0 1461.3 L790.0 1461.1 L792.0 1461.0 L794.0 1460.8 L796.0 1460.6 L796.4 1460.6 L798.0 1460.5 L800.0 1460.3 L802.0 1460.1 L804.0 1459.9 L806.0 1459.7 L808.0 1459.5 L810.0 1459.2 L812.0 1459.0 L814.0 1458.8 L816.0 1458.5 L818.0 1458.3 L820.0 1458.0 L821.8 1457.8 L822.0 1457.8 L824.0 1457.5 L826.0 1457.2 L828.0 1457.0 L830.0 1456.7 L832.0 1456.4 L834.0 1456.0 L836.0 1455.7 L838.0 1455.4 L840.0 1455.1 L842.0 1454.8 L844.0 1454.4 L846.0 1454.1 L847.4 1453.9 L848.0 1453.8 L850.0 1453.5 L852.0 1453.2 L854.0 1452.9 L856.0 1452.5 L858.0 1452.2 L860.0 1451.9 L862.0 1451.6 L864.0 1451.2 L866.0 1450.9 L868.0 1450.5 L870.0 1450.2 L872.0 1449.8 L872.6 1449.7 L874.0 1449.4 L876.0 1449.1 L878.0 1448.7 L880.0 1448.3 L882.0 1447.9 L884.0 1447.5 L886.0 1447.0 L888.0 1446.6 L890.0 1446.2 L892.0 1445.8 L894.0 1445.3 L896.0 1444.9 L898.0 1444.4 L900.0 1443.9 L902.0 1443.4 L904.0 1442.9 L906.0 1442.4 L908.0 1441.9 L910.0 1441.4 L912.0 1440.8 L914.0 1440.3 L916.0 1439.8 L918.0 1439.2 L920.0 1438.7 L922.0 1438.2 L922.7 1438.0 L924.0 1437.7 L926.0 1437.2 L928.0 1436.7 L930.0 1436.2 L932.0 1435.7 L934.0 1435.2 L936.0 1434.7 L938.0 1434.2 L940.0 1433.7 L942.0 1433.2 L944.0 1432.8 L946.0 1432.3 L947.8 1431.8 L948.0 1431.7 L950.0 1431.3 L952.0 1430.8 L954.0 1430.3 L956.0 1429.8 L958.0 1429.3 L960.0 1428.8 L962.0 1428.4 L964.0 1427.8 L966.0 1427.3 L968.0 1426.7 L970.0 1426.2 L972.0 1425.5 L972.4 1425.4 L974.0 1424.9 L976.0 1424.2 L978.0 1423.5 L980.0 1422.8 L982.0 1422.0 L984.0 1421.2 L986.0 1420.4 L988.0 1419.5 L990.0 1418.5 L992.0 1417.5 L994.0 1416.4 L996.0 1415.3 L997.3 1414.5 L998.0 1414.1 L1000.0 1412.7 L1002.0 1411.1 L1004.0 1409.4 L1006.0 1407.5 L1008.0 1405.5 L1010.0 1403.4 L1012.0 1401.2 L1014.0 1398.9 L1016.0 1396.5 L1016.4 1396.0 L1018.0 1394.0 L1020.0 1391.2 L1022.0 1388.3 L1024.0 1385.1 L1026.0 1381.6 L1028.0 1377.9 L1029.0 1375.9 L1030.0 1373.8 L1032.0 1369.1 L1034.0 1363.8 L1036.0 1358.3 L1038.0 1352.7 L1038.2 1352.1 L1040.0 1347.1 L1042.0 1341.6 L1044.0 1335.6 L1046.0 1328.6 L1046.3 1327.5 L1048.0 1319.8 L1050.0 1309.2 L1051.3 1302.6 L1052.0 1299.4 L1054.0 1290.6 L1056.0 1281.6 L1056.9 1277.1 L1058.0 1271.0 L1060.0 1258.7 L1061.1 1252.0 L1062.0 1246.7 L1064.0 1235.1 L1065.3 1227.1 L1066.0 1222.5 L1068.0 1208.7 L1069.0 1201.9 L1070.0 1195.4 L1072.0 1182.7 L1072.9 1176.7 L1074.0 1169.2 L1076.0 1154.6 L1076.5 1150.7 L1078.0 1137.5 L1079.3 1125.5 L1080.0 1119.2 L1082.0 1101.2 L1082.1 1100.3 L1084.0 1082.9 L1084.9 1074.6 L1086.0 1063.9 L1087.7 1048.5 L1088.0 1046.4 L1090.0 1034.8 L1091.9 1023.2 L1092.0 1022.4 L1094.0 1003.4 L1094.7 997.1 L1096.0 987.4 L1098.0 974.0 L1098.3 972.0 L1100.0 961.0 L1102.0 948.1 L1102.2 946.8 L1104.0 934.5 L1105.9 921.6 L1106.0 921.0 L1108.0 908.5 L1110.0 896.5 L1110.1 895.9 L1112.0 884.3 L1114.0 872.4 L1114.3 870.7 L1116.0 861.5 L1118.0 850.9 L1119.0 845.5 L1120.0 839.8 L1122.0 828.1 L1123.5 819.5 L1124.0 816.8 L1126.0 806.2 L1128.0 795.8 L1128.3 794.3 L1130.0 785.6 L1132.0 775.5 L1133.3 769.2 L1134.0 766.0 L1136.0 757.3 L1138.0 748.5 L1138.9 744.3 L1140.0 738.6 L1142.0 727.6 L1143.6 719.1 L1144.0 717.1 L1146.0 707.9 L1148.0 699.0 L1149.2 693.6 L1150.0 690.1 L1152.0 681.5 L1154.0 672.5 L1154.8 668.5 L1156.0 661.5 L1158.0 648.8 L1159.0 643.3 L1160.0 638.7 L1162.0 630.5 L1164.0 622.9 L1165.2 618.1 L1166.0 614.8 L1168.0 606.8 L1170.0 598.3 L1171.0 593.8 L1172.0 588.8 L1174.0 578.0 L1175.8 568.5 L1176.0 567.5 L1178.0 558.1 L1180.0 549.2 L1181.4 543.1 L1182.0 540.6 L1184.0 532.7 L1186.0 524.8 L1187.6 518.0 L1188.0 516.1 L1190.0 505.9 L1192.0 495.6 L1192.6 492.8 L1194.0 486.9 L1196.0 479.3 L1198.0 471.7 L1199.0 467.6 L1200.0 463.2 L1202.0 453.9 L1204.0 444.9 L1204.6 442.4 L1206.0 437.0 L1208.0 429.8 L1210.0 422.9 L1211.6 417.3 L1212.0 415.9 L1214.0 408.8 L1216.0 401.7 L1218.0 394.9 L1218.6 392.9 L1220.0 388.4 L1222.0 382.1 L1224.0 376.0 L1226.0 370.2 L1226.7 368.3 L1228.0 364.8 L1230.0 359.6 L1232.0 354.6 L1234.0 349.9 L1236.0 345.5 L1236.5 344.5 L1238.0 341.4 L1240.0 337.2 L1242.0 333.1 L1244.0 329.3 L1246.0 325.8 L1248.0 322.8 L1250.0 320.4 L1250.2 320.2 L1252.0 318.4 L1254.0 316.4 L1256.0 314.6 L1258.0 312.8 L1260.0 311.2 L1262.0 309.9 L1264.0 308.8 L1266.0 308.0 L1268.0 307.6 L1268.9 307.6 L1270.0 307.6 L1272.0 307.9 L1274.0 308.5 L1276.0 309.3 L1278.0 310.2 L1280.0 311.4 L1282.0 312.7 L1284.0 314.1 L1286.0 315.7 L1288.0 317.3 L1290.0 319.0 L1292.0 320.7 L1293.8 322.2 L1294.0 322.4 L1296.0 324.3 L1298.0 326.6 L1300.0 329.2 L1302.0 332.0 L1304.0 335.0 L1306.0 338.1 L1308.0 341.2 L1308.7 342.3 L1310.0 344.4 L1312.0 347.8 L1314.0 351.3 L1316.0 355.0 L1318.0 358.7 L1320.0 362.4 L1321.3 364.7 L1322.0 365.9 L1324.0 369.4 L1326.0 372.8 L1328.0 376.2 L1330.0 379.7 L1332.0 383.3 L1333.0 385.1 L1334.0 387.0 L1336.0 390.9 L1338.0 394.8 L1340.0 398.9 L1342.0 403.0 L1344.0 407.1 L1345.3 409.7 L1346.0 411.1 L1348.0 415.2 L1350.0 419.3 L1352.0 423.5 L1354.0 427.5 L1356.0 431.5 L1357.3 434.0 L1358.0 435.3 L1360.0 439.0 L1362.0 442.6 L1364.0 446.2 L1366.0 449.7 L1368.0 453.1 L1369.9 456.4 L1370.0 456.6 L1372.0 460.0 L1374.0 463.3 L1376.0 466.6 L1378.0 469.9 L1380.0 473.2 L1382.0 476.5 L1383.4 478.8 L1384.0 479.8 L1386.0 483.1 L1388.0 486.5 L1390.0 489.9 L1392.0 493.2 L1394.0 496.4 L1396.0 499.6 L1397.1 501.2 L1398.0 502.5 L1400.0 505.4 L1402.0 508.2 L1404.0 510.9 L1406.0 513.5 L1408.0 516.1 L1410.0 518.6 L1412.0 521.1 L1412.2 521.3 L1414.0 523.5 L1416.0 525.8 L1418.0 528.2 L1420.0 530.4 L1422.0 532.7 L1424.0 534.8 L1426.0 536.9 L1428.0 538.9 L1430.0 540.9 L1430.9 541.7 L1432.0 542.7 L1434.0 544.5 L1436.0 546.2 L1438.0 547.9 L1440.0 549.6 L1442.0 551.2 L1444.0 552.7 L1446.0 554.1 L1448.0 555.5 L1450.0 556.8 L1450.5 557.1 L1452.0 558.0 L1454.0 559.3 L1456.0 560.5 L1458.0 561.7 L1460.0 562.8 L1462.0 563.9 L1464.0 564.9 L1466.0 565.9 L1468.0 566.7 L1470.0 567.3 L1471.7 567.8 L1472.0 567.9 L1474.0 568.3 L1476.0 568.8 L1478.0 569.3 L1480.0 569.7 L1482.0 570.1 L1484.0 570.5 L1486.0 570.8 L1488.0 571.1 L1490.0 571.3 L1492.0 571.5 L1494.0 571.6 L1496.0 571.7 L1496.9 571.7 L1498.0 571.7 L1500.0 571.6 L1502.0 571.5 L1504.0 571.4 L1506.0 571.2 L1508.0 571.0 L1510.0 570.7 L1512.0 570.5 L1514.0 570.2 L1516.0 569.9 L1518.0 569.6 L1520.0 569.2 L1522.0 568.9 L1522.1 568.9 L1524.0 568.6 L1526.0 568.2 L1528.0 567.7 L1530.0 567.2 L1532.0 566.7 L1534.0 566.1 L1536.0 565.5 L1538.0 564.8 L1540.0 564.1 L1542.0 563.4 L1544.0 562.6 L1546.0 561.8 L1547.3 561.3 L1548.0 561.0 L1550.0 560.1 L1552.0 559.1 L1554.0 558.0 L1556.0 556.8 L1558.0 555.6 L1560.0 554.3 L1562.0 553.0 L1564.0 551.6 L1566.0 550.2 L1568.0 548.8 L1570.0 547.4 L1570.8 546.8 L1572.0 546.0 L1574.0 544.5 L1576.0 543.0 L1578.0 541.5 L1580.0 539.9 L1582.0 538.3 L1584.0 536.6 L1586.0 534.9 L1588.0 533.2 L1590.0 531.5 L1592.0 529.7 L1592.6 529.2 L1594.0 527.9 L1596.0 526.1 L1598.0 524.2 L1600.0 522.2 L1602.0 520.2 L1604.0 518.2 L1606.0 516.2 L1608.0 514.2 L1610.0 512.3 L1610.8 511.5 L1612.0 510.4 L1614.0 508.5 L1616.0 506.6 L1618.0 504.8 L1620.0 502.9 L1622.0 501.0 L1624.0 499.1 L1626.0 497.2 L1628.0 495.2 L1629.8 493.4 L1630.0 493.2 L1632.0 491.1 L1634.0 488.9 L1636.0 486.6 L1638.0 484.3 L1640.0 482.0 L1642.0 479.7 L1644.0 477.4 L1646.0 475.1 L1647.1 473.8 L1648.0 472.8 L1650.0 470.5 L1652.0 468.2 L1654.0 465.9 L1656.0 463.6 L1658.0 461.3 L1660.0 459.0 L1662.0 456.6 L1663.4 455.0 L1664.0 454.3 L1666.0 452.0 L1668.0 449.6 L1670.0 447.3 L1672.0 444.9 L1674.0 442.5 L1676.0 440.2 L1678.0 437.8 L1680.0 435.4 L1680.7 434.6 L1682.0 433.1 L1684.0 430.7 L1686.0 428.2 L1688.0 425.8 L1690.0 423.4 L1692.0 421.0 L1694.0 418.7 L1696.0 416.3 L1696.9 415.3 L1698.0 414.1 L1700.0 411.8 L1702.0 409.6 L1704.0 407.4 L1706.0 405.3 L1708.0 403.2 L1710.0 401.0 L1712.0 398.9 L1714.0 396.7 L1715.4 395.2 L1716.0 394.5 L1718.0 392.4 L1720.0 390.2 L1722.0 388.0 L1724.0 385.8 L1726.0 383.6 L1728.0 381.5 L1730.0 379.3 L1732.0 377.1 L1732.4 376.7 L1734.0 375.0 L1736.0 372.8 L1738.0 370.6 L1740.0 368.4 L1742.0 366.2 L1744.0 364.0 L1746.0 361.9 L1748.0 359.8 L1750.0 357.8 L1750.1 357.7 L1752.0 355.8 L1754.0 353.9 L1756.0 351.9 L1758.0 350.0 L1760.0 348.2 L1762.0 346.4 L1764.0 344.6 L1766.0 342.8 L1768.0 341.1 L1768.3 340.9 L1770.0 339.5 L1772.0 337.9 L1774.0 336.3 L1776.0 334.7 L1778.0 333.2 L1780.0 331.7 L1782.0 330.3 L1784.0 328.8 L1786.0 327.4 L1788.0 326.1 L1788.4 325.8 L1790.0 324.7 L1792.0 323.4 L1794.0 322.1 L1796.0 320.8 L1798.0 319.5 L1800.0 318.3 L1802.0 317.1 L1804.0 315.9 L1806.0 314.8 L1808.0 313.7 L1809.4 312.9 L1810.0 312.6 L1812.0 311.5 L1814.0 310.4 L1816.0 309.3 L1818.0 308.3 L1820.0 307.3 L1822.0 306.3 L1824.0 305.4 L1826.0 304.5 L1828.0 303.7 L1830.0 302.9 L1830.9 302.6 L1832.0 302.2 L1834.0 301.6 L1836.0 300.9 L1838.0 300.3 L1840.0 299.7 L1842.0 299.1 L1844.0 298.6 L1846.0 298.1 L1848.0 297.6 L1850.0 297.2 L1852.0 296.9 L1854.0 296.6 L1855.5 296.4 L1856.0 296.3 L1858.0 296.1 L1860.0 296.0 L1862.0 295.8 L1864.0 295.6 L1866.0 295.4 L1868.0 295.3 L1870.0 295.2 L1872.0 295.0 L1874.0 294.9 L1876.0 294.9 L1878.0 294.8 L1880.0 294.8 L1880.7 294.8 L1882.0 294.8 L1884.0 294.9 L1886.0 294.9 L1888.0 295.1 L1890.0 295.2 L1892.0 295.4 L1894.0 295.6 L1896.0 295.8 L1898.0 296.0 L1900.0 296.3 L1902.0 296.6 L1904.0 296.9 L1905.0 297.0 L1906.0 297.2 L1908.0 297.6 L1910.0 298.1 L1912.0 298.7 L1914.0 299.3 L1916.0 300.0 L1918.0 300.8 L1920.0 301.6 L1922.0 302.4 L1924.0 303.2 L1926.0 304.0 L1928.0 304.7 L1928.3 304.8 L1930.0 305.4 L1932.0 306.1 L1934.0 306.8 L1936.0 307.5 L1938.0 308.2 L1940.0 308.9 L1942.0 309.6 L1944.0 310.3 L1946.0 311.1 L1948.0 311.9 L1950.0 312.8 L1952.0 313.7 L1954.0 314.6 L1956.0 315.6 L1958.0 316.8 L1960.0 318.0 L1962.0 319.3 L1964.0 320.6 L1966.0 322.0 L1968.0 323.4 L1970.0 324.8 L1972.0 326.2 L1974.0 327.5 L1974.4 327.8 L1976.0 328.8 L1978.0 330.1 L1980.0 331.3 L1982.0 332.6 L1984.0 333.8 L1986.0 335.1 L1988.0 336.5 L1990.0 337.9 L1990.6 338.4 L1992.0 339.5 L1994.0 341.2 L1996.0 343.0 L1998.0 344.9 L2000.0 346.9 L2002.0 348.8 L2004.0 350.7 L2006.0 352.6 L2008.0 354.3 L2010.0 355.9 L2012.0 357.5 L2014.0 359.0 L2016.0 360.4 L2018.0 361.9 L2020.0 363.4 L2022.0 364.9 L2024.0 366.4 L2026.0 368.0 L2026.4 368.3 L2028.0 369.6 L2030.0 371.4 L2032.0 373.1 L2034.0 375.0 L2036.0 376.8 L2038.0 378.6 L2040.0 380.5 L2042.0 382.3 L2044.0 384.0 L2044.3 384.3 L2046.0 385.8 L2048.0 387.5 L2050.0 389.2 L2052.0 391.0 L2054.0 392.7 L2056.0 394.4 L2058.0 396.1 L2060.0 397.7 L2061.7 399.1 L2062.0 399.3 L2064.0 401.0 L2066.0 402.8 L2068.0 404.6 L2070.0 406.4 L2072.0 408.2 L2074.0 409.9 L2076.0 411.4 L2078.0 412.7 L2080.0 413.8 L2081.5 414.5 L2082.0 414.7 L2084.0 415.4 L2086.0 415.9 L2088.0 416.4 L2090.0 416.8 L2092.0 417.2 L2094.0 417.6 L2096.0 418.1 L2098.0 418.6 L2099.7 419.2 L2100.0 419.3 L2102.0 420.1 L2104.0 421.0 L2106.0 422.1 L2108.0 423.2 L2110.0 424.4 L2112.0 425.7 L2114.0 427.1 L2116.0 428.5" stroke="#ff00ff" stroke-width="13.6" stroke-dasharray="0.001 11.1 0.5 24.8 0.5 24.8 0.5 24.8 0.5 24.8 0.5 24.8 0.5 24.8 0.5 24.8 0.5 24.8 0.5 26.0 0.5 21.6 0.5 14.3 0.5 23.1 0.5 23.0 0.5 17.2 0.5 25.1 0.5 25.0 0.5 25.1 0.5 25.2 0.5 25.3 0.5 24.8 0.5 25.6 0.5 24.8 0.5 25.8 0.5 24.8 0.5 26.9 0.5 26.1 0.5 23.1 0.5 24.4 0.5 26.8 0.5 25.1 0.5 25.2 0.5 23.8 0.5 26.7 0.5 23.7 0.5 25.7 0.5 25.1 0.5 26.7 0.5 22.1 0.5 27.2 0.5 23.3 0.5 27.5 0.5 23.3 0.5 27.9 0.5 22.3 0.5 27.0 0.5 24.3 0.5 26.8 0.5 24.0 0.5 25.9 0.5 26.2 0.5 25.0 0.5 24.6 0.5 24.1 0.5 25.2 0.5 27.2 0.5 24.0 0.5 24.6 0.5 25.3 0.5 26.2 0.5 25.0 0.5 24.5 0.5 25.2 0.5 26.0 0.5 24.9 0.5 25.6 0.5 24.9 0.5 25.2 0.5 25.8 0.5 27.2 0.5 23.0 0.5 29.1 0.5 24.0 0.5 26.0 0.5 22.6 0.5 27.5 0.5 26.6 0.5 25.0 0.5 25.6 0.5 25.4 0.5 24.5 0.5 27.6 0.5 24.3 0.5 23.1 0.5 25.4 0.5 24.7 0.5 26.2 0.5 27.2 0.5 27.2 0.5 25.3 0.5 25.8 0.5 25.2 0.5 24.7 0.5 25.8 0.5 25.2 0.5 26.8 0.5 24.6 0.5 25.2 0.5 24.7 0.5 24.5 0.5 24.1 0.5 23.4 0.5 24.8 0.5 24.6 0.5 24.1 0.5 24.3 0.5 26.8 0.5 23.9 0.5 18.6 0.5 23.2 0.5 22.8 0.5 23.6 0.5 21.8 0.5 25.0 0.5 18.1 0.5 18.1 0.5 9000.0" stroke-dashoffset="0.0" stroke-linecap="round"/>
<path id="o200" d="M390.0 1479.0 L392.0 1479.0 L394.0 1479.0 L396.0 1479.0 L398.0 1479.0 L400.0 1479.0 L402.0 1479.0 L404.0 1479.0 L406.0 1479.0 L408.0 1479.0 L410.0 1479.0 L412.0 1479.0 L414.0 1479.0 L416.0 1479.0 L418.0 1479.0 L420.0 1479.0 L422.0 1479.0 L424.0 1479.0 L426.0 1479.0 L428.0 1479.0 L430.0 1479.0 L432.0 1479.0 L434.0 1479.0 L436.0 1479.0 L438.0 1479.0 L440.0 1479.0 L442.0 1479.0 L444.0 1479.0 L446.0 1479.0 L448.0 1479.0 L450.0 1479.0 L452.0 1479.0 L454.0 1479.0 L456.0 1479.0 L458.0 1479.0 L460.0 1479.0 L462.0 1479.0 L464.0 1479.0 L466.0 1479.0 L468.0 1479.0 L470.0 1479.0 L472.0 1479.0 L474.0 1479.0 L476.0 1479.0 L478.0 1479.0 L480.0 1479.0 L482.0 1479.0 L484.0 1479.0 L486.0 1479.0 L488.0 1479.0 L490.0 1479.0 L492.0 1479.0 L494.0 1479.0 L496.0 1479.0 L498.0 1479.0 L500.0 1479.0 L502.0 1479.0 L504.0 1479.0 L506.0 1479.0 L508.0 1479.0 L510.0 1479.0 L512.0 1479.0 L514.0 1479.0 L516.0 1479.0 L518.0 1479.0 L519.9 1479.0 L520.0 1479.0 L522.0 1479.0 L524.0 1478.8 L526.0 1478.6 L528.0 1478.3 L530.0 1478.0 L532.0 1477.6 L534.0 1477.2 L536.0 1476.7 L538.0 1476.2 L540.0 1475.7 L542.0 1475.2 L544.0 1474.7 L546.0 1474.2 L547.8 1473.8 L548.0 1473.8 L550.0 1473.3 L552.0 1472.8 L554.0 1472.2 L556.0 1471.7 L558.0 1471.0 L560.0 1470.4 L562.0 1469.7 L564.0 1469.0 L566.0 1468.2 L568.0 1467.3 L570.0 1466.4 L572.0 1465.3 L574.0 1464.2 L576.0 1463.0 L578.0 1461.7 L580.0 1460.4 L582.0 1459.0 L584.0 1457.6 L586.0 1456.1 L588.0 1454.6 L590.0 1453.1 L592.0 1451.6 L594.0 1450.1 L596.0 1448.6 L598.0 1447.1 L599.5 1446.0 L600.0 1445.6 L602.0 1444.1 L604.0 1442.6 L606.0 1441.1 L608.0 1439.5 L610.0 1437.9 L612.0 1436.3 L614.0 1434.6 L616.0 1433.0 L618.0 1431.3 L620.0 1429.6 L622.0 1427.9 L624.0 1426.2 L626.0 1424.5 L626.6 1424.0 L628.0 1422.9 L630.0 1421.4 L632.0 1420.1 L634.0 1418.9 L636.0 1417.8 L638.0 1416.6 L640.0 1415.3 L642.0 1413.9 L644.0 1412.3 L646.0 1410.4 L648.0 1408.2 L650.0 1405.6 L652.0 1402.6 L653.7 1399.7 L654.0 1398.9 L656.0 1387.8 L657.0 1384.0 L658.0 1382.7 L660.0 1380.8 L662.0 1379.7 L662.4 1379.5 L664.0 1378.9 L666.0 1378.2 L668.0 1377.6 L670.0 1377.1 L672.0 1376.7 L674.0 1376.3 L676.0 1376.0 L678.0 1375.7 L680.0 1375.4 L682.0 1375.2 L684.0 1374.9 L686.0 1374.6 L688.0 1374.3 L690.0 1373.9 L692.0 1373.5 L694.0 1373.0 L696.0 1372.5 L698.0 1371.8 L699.9 1371.1 L700.0 1371.1 L702.0 1369.8 L704.0 1367.8 L706.0 1365.2 L708.0 1362.4 L710.0 1359.4 L712.0 1356.5 L714.0 1353.9 L716.0 1351.7 L717.7 1350.3 L718.0 1350.1 L720.0 1348.9 L722.0 1347.8 L724.0 1346.8 L726.0 1345.8 L728.0 1344.9 L730.0 1344.1 L732.0 1343.3 L734.0 1342.6 L736.0 1341.9 L738.0 1341.3 L740.0 1340.6 L742.0 1340.0 L744.0 1339.3 L746.0 1338.7 L748.0 1338.0 L750.0 1337.3 L752.0 1336.6 L754.0 1335.8 L756.0 1334.9 L757.4 1334.3 L758.0 1334.0 L760.0 1333.1 L762.0 1332.1 L764.0 1331.1 L766.0 1330.1 L768.0 1329.1 L770.0 1328.0 L772.0 1327.0 L774.0 1325.9 L776.0 1324.8 L778.0 1323.7 L780.0 1322.6 L782.0 1321.5 L784.0 1320.4 L786.0 1319.3 L786.6 1319.0 L788.0 1318.2 L790.0 1317.1 L792.0 1316.0 L794.0 1314.9 L796.0 1313.8 L798.0 1312.7 L800.0 1311.6 L802.0 1310.5 L804.0 1309.3 L806.0 1308.2 L808.0 1307.0 L810.0 1305.9 L812.0 1304.8 L814.0 1303.6 L816.0 1302.5 L818.0 1301.4 L820.0 1300.2 L822.0 1299.1 L822.5 1298.8 L824.0 1297.9 L826.0 1296.8 L828.0 1295.7 L830.0 1294.5 L832.0 1293.4 L834.0 1292.2 L836.0 1291.1 L838.0 1289.9 L840.0 1288.8 L842.0 1287.7 L844.0 1286.5 L846.0 1285.4 L848.0 1284.2 L850.0 1283.1 L852.0 1282.0 L852.7 1281.6 L854.0 1280.9 L856.0 1279.8 L858.0 1278.7 L860.0 1277.6 L862.0 1276.5 L864.0 1275.4 L866.0 1274.3 L868.0 1273.3 L870.0 1272.2 L872.0 1271.1 L874.0 1270.0 L876.0 1268.9 L878.0 1267.8 L880.0 1266.7 L882.0 1265.6 L884.0 1264.4 L886.0 1263.3 L886.3 1263.1 L888.0 1262.1 L890.0 1260.9 L892.0 1259.7 L894.0 1258.4 L896.0 1257.2 L898.0 1255.9 L900.0 1254.7 L902.0 1253.4 L904.0 1252.1 L906.0 1250.9 L908.0 1249.6 L910.0 1248.4 L912.0 1247.2 L914.0 1246.0 L915.7 1245.0 L916.0 1244.8 L918.0 1243.7 L920.0 1242.6 L922.0 1241.4 L924.0 1240.3 L926.0 1239.2 L928.0 1238.1 L930.0 1237.0 L932.0 1236.0 L934.0 1234.9 L936.0 1233.8 L938.0 1232.8 L940.0 1231.7 L942.0 1230.7 L944.0 1229.6 L946.0 1228.6 L948.0 1227.5 L950.0 1226.5 L950.6 1226.2 L952.0 1225.5 L954.0 1224.5 L956.0 1223.5 L958.0 1222.6 L960.0 1221.6 L962.0 1220.7 L964.0 1219.8 L966.0 1218.8 L968.0 1217.9 L970.0 1216.9 L972.0 1215.9 L974.0 1214.9 L976.0 1213.8 L978.0 1212.7 L980.0 1211.5 L982.0 1210.3 L984.0 1209.1 L986.0 1207.9 L988.0 1206.7 L990.0 1205.5 L992.0 1204.2 L994.0 1202.9 L996.0 1201.5 L998.0 1200.1 L1000.0 1198.6 L1002.0 1197.1 L1004.0 1195.4 L1006.0 1193.7 L1008.0 1191.9 L1010.0 1190.0 L1012.0 1187.9 L1013.6 1186.2 L1014.0 1185.7 L1016.0 1183.2 L1018.0 1180.3 L1020.0 1177.0 L1022.0 1173.4 L1024.0 1169.6 L1026.0 1165.6 L1028.0 1161.6 L1029.5 1158.5 L1030.0 1157.5 L1032.0 1153.2 L1034.0 1148.8 L1036.0 1144.1 L1038.0 1139.2 L1040.0 1134.0 L1042.0 1128.5 L1043.5 1124.1 L1044.0 1122.6 L1046.0 1115.9 L1048.0 1108.6 L1050.0 1100.9 L1052.0 1093.2 L1052.7 1090.6 L1054.0 1085.8 L1056.0 1078.4 L1058.0 1071.0 L1060.0 1063.2 L1062.0 1055.0 L1062.5 1052.8 L1064.0 1045.9 L1066.0 1036.0 L1068.0 1025.7 L1069.0 1020.4 L1070.0 1015.0 L1072.0 1003.9 L1074.0 992.6 L1075.9 982.0 L1076.0 981.5 L1078.0 970.6 L1080.0 960.0 L1082.0 949.5 L1082.1 949.0 L1084.0 939.5 L1086.0 929.7 L1088.0 919.8 L1089.9 909.9 L1090.0 909.4 L1092.0 897.5 L1094.0 885.2 L1095.5 876.9 L1096.0 874.4 L1098.0 865.4 L1100.0 857.1 L1102.0 849.1 L1104.0 840.7 L1104.5 838.5 L1106.0 831.4 L1108.0 821.6 L1110.0 811.8 L1111.5 805.0 L1112.0 802.9 L1114.0 794.6 L1116.0 786.8 L1118.0 779.3 L1120.0 771.9 L1121.3 767.2 L1122.0 764.7 L1124.0 757.5 L1126.0 750.4 L1128.0 743.5 L1130.0 736.9 L1131.0 733.6 L1132.0 730.4 L1134.0 724.1 L1136.0 718.1 L1138.0 712.1 L1140.0 706.2 L1142.0 700.5 L1143.1 697.3 L1144.0 694.7 L1146.0 689.0 L1148.0 683.4 L1150.0 677.8 L1152.0 672.4 L1154.0 667.2 L1154.8 665.1 L1156.0 662.1 L1158.0 657.0 L1160.0 652.1 L1162.0 647.3 L1164.0 642.6 L1166.0 638.0 L1168.0 633.5 L1170.0 629.1 L1170.2 628.7 L1172.0 624.9 L1174.0 620.7 L1176.0 616.7 L1178.0 612.7 L1180.0 608.8 L1182.0 605.0 L1184.0 601.2 L1186.0 597.5 L1186.2 597.1 L1188.0 593.8 L1190.0 590.2 L1192.0 586.7 L1194.0 583.2 L1196.0 579.7 L1198.0 576.2 L1200.0 572.8 L1202.0 569.2 L1203.8 566.0 L1204.0 565.6 L1206.0 562.0 L1208.0 558.2 L1210.0 554.4 L1212.0 550.6 L1214.0 546.8 L1216.0 543.0 L1218.0 539.2 L1220.0 535.6 L1222.0 532.0 L1224.0 528.5 L1226.0 525.1 L1228.0 521.7 L1230.0 518.3 L1232.0 515.0 L1234.0 511.8 L1236.0 508.5 L1238.0 505.3 L1240.0 502.2 L1241.5 499.8 L1242.0 499.0 L1244.0 495.9 L1246.0 492.7 L1248.0 489.6 L1250.0 486.5 L1252.0 483.5 L1254.0 480.5 L1256.0 477.5 L1258.0 474.7 L1260.0 471.9 L1261.1 470.4 L1262.0 469.2 L1264.0 466.6 L1266.0 464.1 L1268.0 461.6 L1270.0 459.2 L1272.0 456.8 L1274.0 454.4 L1276.0 452.1 L1278.0 449.8 L1280.0 447.5 L1282.0 445.3 L1284.0 443.0 L1286.0 440.7 L1286.9 439.7 L1288.0 438.4 L1290.0 436.2 L1292.0 433.9 L1294.0 431.6 L1296.0 429.4 L1298.0 427.1 L1300.0 424.9 L1302.0 422.8 L1304.0 420.7 L1306.0 418.6 L1308.0 416.6 L1308.7 415.9 L1310.0 414.6 L1312.0 412.7 L1314.0 410.9 L1316.0 409.0 L1318.0 407.2 L1320.0 405.4 L1322.0 403.7 L1324.0 401.9 L1326.0 400.2 L1328.0 398.5 L1330.0 396.9 L1332.0 395.2 L1334.0 393.5 L1336.0 391.9 L1338.0 390.2 L1340.0 388.6 L1340.8 387.9 L1342.0 386.9 L1344.0 385.2 L1346.0 383.6 L1348.0 381.9 L1350.0 380.3 L1352.0 378.6 L1354.0 377.0 L1356.0 375.4 L1358.0 373.8 L1360.0 372.3 L1362.0 370.8 L1364.0 369.3 L1366.0 367.9 L1367.4 366.9 L1368.0 366.5 L1370.0 365.1 L1372.0 363.7 L1374.0 362.4 L1376.0 361.1 L1378.0 359.7 L1380.0 358.4 L1382.0 357.1 L1384.0 355.9 L1386.0 354.7 L1388.0 353.5 L1390.0 352.4 L1392.0 351.3 L1394.0 350.2 L1396.0 349.2 L1398.0 348.2 L1398.7 347.9 L1400.0 347.3 L1402.0 346.4 L1404.0 345.6 L1406.0 344.8 L1408.0 344.0 L1410.0 343.3 L1412.0 342.5 L1414.0 341.8 L1416.0 341.1 L1418.0 340.4 L1420.0 339.8 L1422.0 339.1 L1424.0 338.5 L1426.0 337.8 L1426.7 337.6 L1428.0 337.2 L1430.0 336.5 L1432.0 335.9 L1434.0 335.2 L1436.0 334.6 L1438.0 333.9 L1440.0 333.3 L1442.0 332.7 L1444.0 332.0 L1446.0 331.4 L1448.0 330.8 L1450.0 330.3 L1452.0 329.7 L1454.0 329.2 L1456.0 328.6 L1458.0 328.2 L1460.0 327.7 L1462.0 327.3 L1464.0 326.9 L1466.0 326.5 L1466.7 326.4 L1468.0 326.2 L1470.0 325.9 L1472.0 325.5 L1474.0 325.2 L1476.0 324.9 L1478.0 324.5 L1480.0 324.2 L1482.0 324.0 L1484.0 323.7 L1486.0 323.5 L1488.0 323.2 L1490.0 323.1 L1492.0 322.9 L1494.0 322.8 L1496.0 322.7 L1498.0 322.7 L1500.0 322.7 L1502.0 322.7 L1504.0 322.7 L1506.0 322.7 L1508.0 322.8 L1510.0 322.8 L1512.0 322.8 L1514.0 322.9 L1516.0 322.9 L1518.0 323.0 L1520.0 323.0 L1522.0 323.1 L1524.0 323.1 L1526.0 323.2 L1528.0 323.3 L1530.0 323.3 L1532.0 323.4 L1534.0 323.5 L1536.0 323.6 L1536.6 323.6 L1538.0 323.7 L1540.0 323.8 L1542.0 324.0 L1544.0 324.1 L1546.0 324.4 L1548.0 324.6 L1550.0 324.9 L1552.0 325.2 L1554.0 325.5 L1556.0 325.8 L1558.0 326.2 L1560.0 326.5 L1562.0 326.9 L1564.0 327.3 L1566.0 327.6 L1568.0 328.0 L1570.0 328.4 L1572.0 328.8 L1574.0 329.1 L1574.4 329.2 L1576.0 329.5 L1578.0 329.9 L1580.0 330.3 L1582.0 330.8 L1584.0 331.2 L1586.0 331.7 L1588.0 332.2 L1590.0 332.7 L1592.0 333.1 L1594.0 333.6 L1596.0 334.0 L1596.8 334.2 L1598.0 334.4 L1600.0 334.8 L1602.0 335.2 L1604.0 335.6 L1606.0 336.0 L1608.0 336.4 L1610.0 336.8 L1610.8 337.0 L1612.0 337.3 L1614.0 337.8 L1616.0 338.3 L1618.0 338.8 L1620.0 339.3 L1622.0 339.8 L1624.0 340.4 L1626.0 341.0 L1628.0 341.6 L1630.0 342.2 L1632.0 342.8 L1634.0 343.4 L1636.0 344.0 L1638.0 344.6 L1640.0 345.2 L1642.0 345.9 L1642.1 345.9 L1644.0 346.5 L1646.0 347.2 L1648.0 347.8 L1650.0 348.5 L1652.0 349.2 L1654.0 349.9 L1656.0 350.6 L1658.0 351.4 L1660.0 352.1 L1662.0 352.8 L1664.0 353.6 L1666.0 354.3 L1668.0 355.1 L1670.0 355.9 L1672.0 356.6 L1674.0 357.4 L1676.0 358.1 L1678.0 358.9 L1679.3 359.4 L1680.0 359.7 L1682.0 360.4 L1684.0 361.2 L1686.0 362.0 L1688.0 362.8 L1690.0 363.5 L1692.0 364.3 L1694.0 365.1 L1696.0 365.9 L1698.0 366.7 L1700.0 367.5 L1702.0 368.3 L1704.0 369.2 L1706.0 370.0 L1708.0 370.8 L1710.0 371.6 L1712.0 372.4 L1714.0 373.2 L1716.0 374.0 L1718.0 374.8 L1720.0 375.6 L1722.0 376.4 L1724.0 377.2 L1726.0 378.0 L1728.0 378.8 L1729.7 379.5 L1730.0 379.6 L1732.0 380.4 L1734.0 381.2 L1736.0 382.0 L1738.0 382.7 L1740.0 383.5 L1742.0 384.3 L1744.0 385.1 L1746.0 385.8 L1748.0 386.6 L1750.0 387.4 L1752.0 388.1 L1754.0 388.9 L1756.0 389.7 L1758.0 390.4 L1760.0 391.2 L1762.0 392.0 L1764.0 392.7 L1766.0 393.5 L1768.0 394.3 L1770.0 395.1 L1772.0 395.9 L1774.0 396.7 L1776.0 397.5 L1778.0 398.3 L1778.6 398.5 L1780.0 399.1 L1782.0 399.9 L1784.0 400.7 L1786.0 401.5 L1788.0 402.3 L1790.0 403.2 L1792.0 404.0 L1794.0 404.8 L1796.0 405.7 L1798.0 406.5 L1800.0 407.3 L1802.0 408.2 L1804.0 409.0 L1806.0 409.9 L1808.0 410.7 L1810.0 411.5 L1811.6 412.2 L1812.0 412.4 L1814.0 413.2 L1816.0 414.0 L1818.0 414.9 L1820.0 415.7 L1822.0 416.6 L1824.0 417.4 L1826.0 418.2 L1828.0 419.1 L1830.0 419.9 L1832.0 420.8 L1834.0 421.6 L1836.0 422.5 L1838.0 423.3 L1840.0 424.2 L1842.0 425.0 L1844.0 425.8 L1846.0 426.7 L1848.0 427.5 L1850.0 428.3 L1852.0 429.2 L1854.0 430.0 L1856.0 430.8 L1858.0 431.7 L1858.3 431.8 L1860.0 432.5 L1862.0 433.3 L1864.0 434.2 L1866.0 435.0 L1868.0 435.8 L1870.0 436.7 L1872.0 437.5 L1874.0 438.3 L1876.0 439.2 L1878.0 440.0 L1880.0 440.8 L1882.0 441.6 L1884.0 442.5 L1886.0 443.3 L1888.0 444.1 L1890.0 444.9 L1892.0 445.7 L1894.0 446.5 L1896.0 447.3 L1898.0 448.1 L1900.0 448.9 L1902.0 449.7 L1904.0 450.5 L1906.0 451.2 L1906.4 451.4 L1908.0 452.0 L1910.0 452.8 L1912.0 453.5 L1914.0 454.3 L1916.0 455.0 L1918.0 455.8 L1920.0 456.5 L1922.0 457.2 L1924.0 457.9 L1926.0 458.7 L1928.0 459.4 L1930.0 460.1 L1932.0 460.8 L1934.0 461.5 L1936.0 462.2 L1938.0 462.9 L1939.4 463.4 L1940.0 463.6 L1942.0 464.3 L1944.0 465.0 L1946.0 465.7 L1948.0 466.4 L1950.0 467.1 L1952.0 467.8 L1954.0 468.5 L1956.0 469.2 L1958.0 469.8 L1960.0 470.5 L1962.0 471.1 L1964.0 471.8 L1966.0 472.4 L1968.0 473.0 L1968.8 473.2 L1970.0 473.5 L1972.0 474.1 L1974.0 474.7 L1976.0 475.2 L1978.0 475.7 L1980.0 476.2 L1982.0 476.7 L1984.0 477.2 L1986.0 477.7 L1988.0 478.2 L1989.2 478.5 L1990.0 478.7 L1992.0 479.2 L1994.0 479.7 L1996.0 480.2 L1998.0 480.7 L2000.0 481.2 L2002.0 481.7 L2004.0 482.1 L2006.0 482.5 L2008.0 482.8 L2009.4 483.0 L2010.0 483.1 L2012.0 483.3 L2014.0 483.5 L2016.0 483.7 L2018.0 483.9 L2020.0 484.0 L2022.0 484.0 L2024.0 483.9 L2026.0 483.6 L2028.0 483.2 L2030.0 482.7 L2032.0 482.2 L2034.0 481.6 L2034.5 481.5 L2036.0 481.1 L2038.0 480.4 L2040.0 479.6 L2042.0 478.8 L2044.0 477.9 L2046.0 476.9 L2048.0 475.9 L2050.0 475.0 L2052.0 474.0 L2054.0 473.0 L2056.0 472.1 L2058.0 471.1 L2060.0 470.1 L2062.0 469.0 L2064.0 467.9 L2066.0 466.7 L2068.0 465.5 L2068.1 465.4 L2070.0 464.0 L2072.0 462.4 L2074.0 460.6 L2076.0 458.7 L2078.0 456.8 L2080.0 454.8 L2082.0 452.9 L2084.0 451.0 L2086.0 449.3 L2087.7 448.0 L2088.0 447.8 L2090.0 446.3 L2092.0 444.9 L2094.0 443.5 L2096.0 442.1 L2098.0 440.8 L2100.0 439.4 L2102.0 438.2 L2104.0 436.9 L2106.0 435.7 L2108.0 434.6 L2110.0 433.5 L2112.0 432.4 L2114.0 431.4 L2116.0 430.5" stroke="#808000" stroke-width="10.3" stroke-dasharray="0.001 30.0 7.0 31.3 7.0 31.6 36.5 30.5 7.0 28.5 7.0 28.8 36.5 27.8 7.0 30.6 7.0 30.9 36.5 29.8 7.0 32.9 7.0 33.2 36.5 32.1 7.0 32.3 7.0 32.7 36.5 31.5 7.0 31.3 7.0 31.6 36.5 30.5 7.0 32.0 7.0 32.3 36.5 31.2 7.0 32.6 7.0 32.9 36.5 31.7 7.0 32.4 7.0 32.7 36.5 31.5 7.0 32.5 7.0 32.8 36.5 31.7 7.0 33.1 7.0 33.4 36.5 32.2 7.0 29.8 7.0 30.1 36.5 29.1 7.0 32.2 7.0 32.5 36.5 31.4 7.0 32.1 7.0 32.4 36.5 31.3 7.0 29.5 7.0 29.8 36.5 28.8 7.0 27.7 7.0 28.0 36.5 27.0 7.0 27.7 7.0 28.0 36.5 9000.0" stroke-dashoffset="0.0" stroke-linecap="round"/>
<path id="n250" d="M390.0 1479.0 L392.0 1479.0 L394.0 1479.0 L396.0 1479.0 L398.0 1479.0 L400.0 1479.0 L402.0 1479.0 L404.0 1479.0 L406.0 1479.0 L408.0 1479.0 L410.0 1479.0 L412.0 1479.0 L414.0 1479.0 L416.0 1479.0 L418.0 1479.0 L420.0 1479.0 L422.0 1479.0 L424.0 1479.0 L426.0 1479.0 L428.0 1479.0 L430.0 1479.0 L432.0 1479.0 L434.0 1479.0 L436.0 1479.0 L438.0 1479.0 L440.0 1479.0 L442.0 1479.0 L444.0 1479.0 L446.0 1479.0 L448.0 1479.0 L450.0 1479.0 L452.0 1479.0 L454.0 1479.0 L456.0 1479.0 L458.0 1479.0 L460.0 1479.0 L462.0 1479.0 L464.0 1479.0 L466.0 1479.0 L468.0 1479.0 L470.0 1479.0 L472.0 1479.0 L474.0 1479.0 L476.0 1479.0 L478.0 1479.0 L480.0 1479.0 L482.0 1479.0 L484.0 1479.0 L486.0 1479.0 L488.0 1479.0 L490.0 1479.0 L491.9 1479.0 L492.0 1479.0 L494.0 1478.8 L496.0 1478.2 L498.0 1477.4 L500.0 1476.3 L502.0 1475.1 L504.0 1473.8 L506.0 1472.6 L508.0 1471.4 L508.7 1471.0 L510.0 1470.3 L512.0 1469.3 L514.0 1468.3 L516.0 1467.3 L518.0 1466.1 L520.0 1464.8 L522.0 1463.2 L522.7 1462.6 L524.0 1461.2 L526.0 1458.5 L528.0 1455.2 L530.0 1451.3 L532.0 1447.1 L533.8 1443.0 L534.0 1442.5 L536.0 1437.4 L538.0 1431.6 L540.0 1424.9 L542.0 1417.6 L544.0 1409.5 L545.0 1405.2 L546.0 1400.4 L548.0 1389.0 L550.0 1376.4 L551.2 1368.9 L552.0 1364.0 L554.0 1351.6 L556.0 1338.3 L556.8 1332.5 L558.0 1322.9 L560.0 1305.4 L561.3 1294.2 L562.0 1288.5 L564.0 1272.6 L566.0 1257.0 L568.0 1242.0 L570.0 1226.8 L571.0 1218.7 L572.0 1209.9 L574.0 1191.0 L575.0 1181.5 L576.0 1172.0 L578.0 1152.8 L579.2 1142.3 L580.0 1136.1 L582.0 1122.1 L584.0 1107.6 L584.2 1106.0 L586.0 1090.1 L588.0 1070.8 L588.4 1066.8 L590.0 1050.0 L590.3 1047.0 L592.0 1031.3 L594.0 1014.8 L596.0 1001.6 L597.6 991.0 L598.0 987.8 L600.0 970.7 L600.1 970.0 L602.0 958.5 L604.0 947.9 L605.7 937.8 L606.0 935.7 L608.0 919.6 L608.5 916.0 L610.0 906.9 L612.0 895.7 L612.2 894.5 L614.0 882.7 L616.0 869.3 L617.2 862.3 L618.0 858.3 L620.0 849.4 L622.0 840.5 L624.0 830.3 L626.0 820.0 L626.2 819.0 L628.0 810.4 L630.0 801.1 L632.0 792.5 L633.1 788.2 L634.0 784.9 L636.0 778.3 L638.0 772.2 L640.0 766.1 L640.1 765.8 L642.0 760.2 L644.0 754.5 L646.0 748.5 L647.1 744.8 L648.0 741.4 L650.0 732.4 L652.0 723.3 L654.0 715.8 L654.1 715.5 L656.0 710.3 L658.0 705.5 L660.0 701.2 L662.0 697.3 L664.0 693.9 L664.5 693.1 L666.0 690.8 L668.0 687.9 L670.0 685.2 L672.0 682.7 L674.0 680.4 L676.0 678.2 L678.0 676.0 L680.0 673.8 L682.0 671.7 L684.0 669.5 L686.0 667.2 L687.7 665.1 L688.0 664.7 L690.0 662.1 L692.0 659.4 L694.0 656.6 L696.0 653.8 L698.0 651.0 L700.0 648.3 L702.0 645.6 L704.0 643.1 L706.0 640.8 L708.0 638.8 L709.2 637.7 L710.0 637.0 L712.0 635.4 L714.0 633.9 L716.0 632.5 L718.0 631.1 L720.0 629.8 L722.0 628.6 L724.0 627.5 L726.0 626.3 L728.0 625.2 L730.0 624.1 L732.0 623.1 L734.0 622.0 L736.0 620.8 L738.0 619.7 L740.0 618.5 L742.0 617.2 L743.6 616.2 L744.0 615.9 L746.0 614.6 L748.0 613.2 L750.0 611.8 L752.0 610.4 L754.0 609.0 L756.0 607.6 L758.0 606.2 L760.0 604.7 L762.0 603.3 L764.0 601.8 L766.0 600.3 L768.0 598.9 L770.0 597.4 L772.0 595.9 L773.0 595.2 L774.0 594.5 L776.0 592.9 L778.0 591.3 L780.0 589.7 L782.0 588.1 L784.0 586.6 L786.0 585.1 L788.0 583.7 L789.8 582.6 L790.0 582.5 L792.0 581.3 L794.0 580.3 L796.0 579.3 L798.0 578.3 L800.0 577.4 L802.0 576.5 L804.0 575.6 L806.0 574.8 L808.0 573.9 L810.0 573.0 L812.0 572.1 L814.0 571.2 L816.0 570.2 L816.4 570.0 L818.0 569.2 L820.0 568.1 L822.0 567.1 L824.0 566.0 L826.0 564.9 L828.0 563.8 L830.0 562.6 L832.0 561.5 L834.0 560.4 L836.0 559.2 L838.0 558.1 L840.0 557.0 L842.0 555.8 L844.0 554.7 L846.0 553.6 L848.0 552.6 L850.0 551.5 L852.0 550.5 L852.7 550.1 L854.0 549.4 L856.0 548.4 L858.0 547.5 L860.0 546.5 L862.0 545.5 L864.0 544.6 L866.0 543.6 L868.0 542.7 L870.0 541.8 L872.0 540.8 L874.0 539.9 L876.0 539.0 L878.0 538.0 L880.0 537.1 L882.0 536.2 L884.0 535.2 L884.9 534.8 L886.0 534.3 L888.0 533.3 L890.0 532.4 L892.0 531.5 L894.0 530.5 L896.0 529.6 L898.0 528.6 L900.0 527.6 L902.0 526.7 L902.5 526.4 L904.0 525.6 L906.0 524.6 L908.0 523.5 L910.0 522.4 L912.0 521.3 L914.0 520.2 L916.0 519.1 L918.0 518.1 L919.9 517.1 L920.0 517.0 L922.0 516.0 L924.0 515.0 L926.0 514.1 L928.0 513.1 L930.0 512.1 L932.0 511.1 L934.0 510.2 L936.0 509.2 L938.0 508.3 L940.0 507.4 L942.0 506.4 L944.0 505.5 L946.0 504.5 L948.0 503.6 L950.0 502.6 L952.0 501.7 L954.0 500.8 L956.0 499.8 L958.0 498.9 L960.0 498.0 L962.0 497.1 L964.0 496.2 L966.0 495.2 L968.0 494.3 L970.0 493.3 L972.0 492.3 L972.2 492.2 L974.0 491.3 L976.0 490.2 L978.0 489.1 L980.0 488.0 L982.0 486.9 L984.0 485.7 L986.0 484.6 L988.0 483.4 L990.0 482.3 L991.2 481.6 L992.0 481.1 L994.0 480.0 L996.0 478.9 L998.0 477.8 L1000.0 476.8 L1002.0 475.7 L1004.0 474.6 L1006.0 473.5 L1008.0 472.4 L1010.0 471.2 L1012.0 470.1 L1014.0 468.8 L1016.0 467.6 L1018.0 466.2 L1020.0 464.9 L1022.0 463.4 L1024.0 461.8 L1026.0 460.1 L1028.0 458.2 L1030.0 456.3 L1032.0 454.3 L1034.0 452.2 L1036.0 450.2 L1037.3 448.9 L1038.0 448.2 L1040.0 446.2 L1042.0 444.1 L1044.0 442.1 L1046.0 439.9 L1048.0 437.8 L1050.0 435.7 L1052.0 433.6 L1054.0 431.4 L1054.1 431.3 L1056.0 429.3 L1058.0 427.2 L1060.0 425.1 L1062.0 423.0 L1064.0 420.9 L1066.0 418.8 L1068.0 416.5 L1070.0 414.2 L1072.0 411.8 L1073.7 409.7 L1074.0 409.3 L1076.0 406.6 L1078.0 403.6 L1080.0 400.5 L1082.0 397.3 L1084.0 394.2 L1086.0 391.1 L1086.3 390.7 L1088.0 388.1 L1090.0 385.1 L1092.0 382.0 L1094.0 379.0 L1096.0 376.2 L1098.0 373.6 L1098.9 372.5 L1100.0 371.2 L1102.0 369.1 L1104.0 367.1 L1106.0 365.2 L1108.0 363.4 L1110.0 361.6 L1112.0 359.9 L1114.0 358.2 L1116.0 356.4 L1118.0 354.7 L1120.0 352.8 L1122.0 350.8 L1122.7 350.1 L1124.0 348.7 L1126.0 346.4 L1128.0 344.0 L1130.0 341.5 L1132.0 339.1 L1134.0 336.9 L1136.0 334.8 L1136.6 334.2 L1138.0 332.9 L1140.0 331.1 L1142.0 329.4 L1144.0 327.7 L1146.0 326.1 L1148.0 324.6 L1150.0 323.1 L1152.0 321.7 L1154.0 320.4 L1154.8 319.9 L1156.0 319.1 L1158.0 317.9 L1160.0 316.7 L1162.0 315.6 L1164.0 314.5 L1166.0 313.4 L1168.0 312.4 L1170.0 311.4 L1172.0 310.4 L1174.0 309.4 L1176.0 308.5 L1178.0 307.6 L1180.0 306.6 L1182.0 305.8 L1182.8 305.4 L1184.0 304.9 L1186.0 304.0 L1188.0 303.2 L1190.0 302.3 L1192.0 301.5 L1194.0 300.8 L1196.0 300.0 L1198.0 299.3 L1200.0 298.6 L1202.0 297.9 L1202.9 297.6 L1204.0 297.3 L1206.0 296.6 L1208.0 296.1 L1210.0 295.5 L1212.0 295.0 L1214.0 294.4 L1216.0 293.9 L1218.0 293.4 L1220.0 292.9 L1222.0 292.4 L1223.4 292.0 L1224.0 291.8 L1226.0 291.3 L1228.0 290.8 L1230.0 290.3 L1232.0 289.7 L1234.0 289.2 L1236.0 288.7 L1238.0 288.1 L1240.0 287.6 L1242.0 287.1 L1244.0 286.6 L1246.0 286.1 L1248.0 285.7 L1250.0 285.2 L1252.0 284.8 L1254.0 284.4 L1254.1 284.4 L1256.0 284.0 L1258.0 283.7 L1260.0 283.3 L1262.0 283.0 L1264.0 282.7 L1266.0 282.4 L1268.0 282.1 L1270.0 281.8 L1272.0 281.5 L1274.0 281.2 L1276.0 280.9 L1276.5 280.8 L1278.0 280.6 L1280.0 280.3 L1282.0 280.0 L1284.0 279.7 L1286.0 279.4 L1288.0 279.1 L1290.0 278.8 L1292.0 278.5 L1294.0 278.3 L1296.0 278.0 L1298.0 277.7 L1300.0 277.5 L1302.0 277.2 L1304.0 277.0 L1306.0 276.7 L1308.0 276.5 L1310.0 276.3 L1312.0 276.1 L1312.9 276.0 L1314.0 275.9 L1316.0 275.7 L1318.0 275.5 L1320.0 275.3 L1322.0 275.2 L1324.0 275.0 L1326.0 274.8 L1328.0 274.7 L1330.0 274.5 L1332.0 274.4 L1334.0 274.2 L1336.0 274.1 L1338.0 273.9 L1340.0 273.8 L1342.0 273.7 L1344.0 273.6 L1346.0 273.4 L1348.0 273.3 L1350.0 273.3 L1351.2 273.2 L1352.0 273.2 L1354.0 273.1 L1356.0 273.0 L1358.0 272.9 L1360.0 272.9 L1362.0 272.8 L1364.0 272.8 L1366.0 272.7 L1368.0 272.7 L1370.0 272.6 L1372.0 272.6 L1374.0 272.5 L1376.0 272.4 L1378.0 272.4 L1380.0 272.3 L1382.0 272.3 L1384.0 272.2 L1386.0 272.2 L1388.0 272.1 L1388.4 272.1 L1390.0 272.0 L1392.0 272.0 L1394.0 271.9 L1396.0 271.8 L1398.0 271.8 L1400.0 271.7 L1402.0 271.6 L1404.0 271.5 L1406.0 271.4 L1408.0 271.4 L1410.0 271.3 L1412.0 271.2 L1414.0 271.1 L1416.0 271.0 L1418.0 271.0 L1420.0 270.9 L1422.0 270.8 L1424.0 270.8 L1426.0 270.7 L1426.7 270.7 L1428.0 270.7 L1430.0 270.6 L1432.0 270.6 L1434.0 270.5 L1436.0 270.4 L1438.0 270.4 L1440.0 270.3 L1442.0 270.3 L1444.0 270.2 L1446.0 270.2 L1448.0 270.1 L1450.0 270.1 L1452.0 270.0 L1454.0 270.0 L1456.0 270.0 L1458.0 269.9 L1460.0 269.9 L1462.0 269.9 L1463.9 269.9 L1464.0 269.9 L1466.0 269.9 L1468.0 269.9 L1470.0 269.9 L1472.0 269.9 L1474.0 269.9 L1476.0 269.9 L1478.0 269.9 L1480.0 269.9 L1482.0 269.9 L1484.0 269.9 L1486.0 269.9 L1488.0 269.9 L1490.0 269.9 L1492.0 269.9 L1494.0 269.9 L1496.0 269.9 L1498.0 269.9 L1500.0 269.9 L1502.0 269.9 L1502.5 269.9 L1504.0 269.9 L1506.0 269.9 L1508.0 269.9 L1510.0 270.0 L1512.0 270.0 L1514.0 270.0 L1516.0 270.1 L1518.0 270.1 L1520.0 270.2 L1522.0 270.2 L1524.0 270.3 L1526.0 270.3 L1528.0 270.4 L1530.0 270.4 L1532.0 270.5 L1534.0 270.5 L1536.0 270.6 L1538.0 270.7 L1539.4 270.7 L1540.0 270.7 L1542.0 270.8 L1544.0 270.8 L1546.0 270.9 L1548.0 271.0 L1550.0 271.0 L1552.0 271.1 L1554.0 271.2 L1556.0 271.2 L1558.0 271.3 L1560.0 271.4 L1562.0 271.5 L1564.0 271.5 L1566.0 271.6 L1568.0 271.7 L1570.0 271.8 L1572.0 271.8 L1574.0 271.9 L1576.0 272.0 L1578.0 272.0 L1580.0 272.1 L1582.0 272.2 L1584.0 272.2 L1586.0 272.3 L1588.0 272.3 L1590.0 272.4 L1592.0 272.5 L1594.0 272.5 L1596.0 272.6 L1598.0 272.6 L1600.0 272.7 L1602.0 272.8 L1604.0 272.8 L1606.0 272.9 L1608.0 272.9 L1610.0 273.0 L1612.0 273.1 L1614.0 273.1 L1616.0 273.2 L1616.4 273.2 L1618.0 273.3 L1620.0 273.3 L1622.0 273.4 L1624.0 273.5 L1626.0 273.5 L1628.0 273.6 L1630.0 273.7 L1632.0 273.7 L1634.0 273.8 L1636.0 273.9 L1638.0 273.9 L1640.0 274.0 L1642.0 274.1 L1644.0 274.1 L1646.0 274.2 L1648.0 274.3 L1650.0 274.4 L1652.0 274.4 L1654.0 274.5 L1656.0 274.6 L1658.0 274.7 L1660.0 274.7 L1662.0 274.8 L1664.0 274.9 L1666.0 275.0 L1668.0 275.0 L1670.0 275.1 L1672.0 275.2 L1674.0 275.3 L1676.0 275.3 L1678.0 275.4 L1680.0 275.5 L1682.0 275.6 L1684.0 275.7 L1686.0 275.8 L1688.0 275.8 L1690.0 275.9 L1691.9 276.0 L1692.0 276.0 L1694.0 276.1 L1696.0 276.2 L1698.0 276.3 L1700.0 276.4 L1702.0 276.4 L1704.0 276.5 L1706.0 276.6 L1708.0 276.7 L1710.0 276.8 L1712.0 276.9 L1714.0 277.0 L1716.0 277.1 L1718.0 277.2 L1720.0 277.3 L1722.0 277.4 L1724.0 277.5 L1726.0 277.6 L1728.0 277.7 L1730.0 277.8 L1732.0 277.9 L1734.0 278.0 L1736.0 278.1 L1738.0 278.2 L1740.0 278.3 L1742.0 278.4 L1744.0 278.6 L1746.0 278.7 L1748.0 278.8 L1750.0 278.9 L1752.0 279.0 L1754.0 279.1 L1756.0 279.2 L1758.0 279.3 L1760.0 279.4 L1762.0 279.5 L1764.0 279.6 L1766.0 279.7 L1768.0 279.8 L1770.0 279.9 L1772.0 280.0 L1774.0 280.1 L1776.0 280.2 L1778.0 280.3 L1780.0 280.4 L1782.0 280.5 L1784.0 280.6 L1786.0 280.7 L1788.0 280.9 L1790.0 281.0 L1792.0 281.1 L1794.0 281.2 L1796.0 281.3 L1798.0 281.4 L1800.0 281.5 L1802.0 281.6 L1804.0 281.7 L1806.0 281.8 L1808.0 281.9 L1810.0 282.0 L1812.0 282.1 L1814.0 282.2 L1816.0 282.3 L1818.0 282.5 L1820.0 282.6 L1822.0 282.7 L1824.0 282.8 L1826.0 282.9 L1828.0 283.0 L1830.0 283.1 L1832.0 283.2 L1834.0 283.3 L1836.0 283.4 L1838.0 283.5 L1840.0 283.6 L1842.0 283.7 L1844.0 283.8 L1846.0 283.9 L1848.0 284.0 L1850.0 284.1 L1852.0 284.2 L1854.0 284.3 L1856.0 284.4 L1858.0 284.5 L1860.0 284.6 L1862.0 284.7 L1864.0 284.8 L1866.0 284.9 L1868.0 285.0 L1870.0 285.1 L1872.0 285.2 L1874.0 285.3 L1876.0 285.4 L1878.0 285.5 L1880.0 285.6 L1882.0 285.7 L1884.0 285.8 L1886.0 285.9 L1888.0 286.0 L1890.0 286.1 L1892.0 286.2 L1894.0 286.3 L1896.0 286.4 L1898.0 286.5 L1900.0 286.6 L1902.0 286.7 L1904.0 286.8 L1906.0 286.9 L1908.0 287.0 L1910.0 287.1 L1912.0 287.2 L1912.9 287.2 L1914.0 287.2 L1916.0 287.3 L1918.0 287.4 L1920.0 287.5 L1922.0 287.6 L1924.0 287.7 L1926.0 287.8 L1928.0 287.9 L1930.0 288.0 L1932.0 288.1 L1934.0 288.1 L1936.0 288.2 L1938.0 288.3 L1940.0 288.4 L1942.0 288.5 L1944.0 288.6 L1946.0 288.7 L1948.0 288.8 L1950.0 288.8 L1952.0 288.9 L1954.0 289.0 L1956.0 289.1 L1958.0 289.2 L1960.0 289.2 L1962.0 289.3 L1964.0 289.4 L1966.0 289.5 L1968.0 289.5 L1970.0 289.6 L1972.0 289.7 L1974.0 289.7 L1976.0 289.8 L1978.0 289.8 L1980.0 289.9 L1982.0 289.9 L1984.0 290.0 L1984.2 290.0 L1986.0 290.0 L1988.0 290.1 L1990.0 290.1 L1992.0 290.2 L1994.0 290.2 L1996.0 290.3 L1998.0 290.3 L2000.0 290.4 L2002.0 290.4 L2004.0 290.4 L2006.0 290.5 L2008.0 290.5 L2010.0 290.5 L2012.0 290.6 L2014.0 290.6 L2016.0 290.6 L2018.0 290.6 L2019.2 290.6 L2020.0 290.6 L2022.0 290.6 L2024.0 290.6 L2026.0 290.5 L2028.0 290.5 L2030.0 290.4 L2032.0 290.3 L2034.0 290.3 L2036.0 290.2 L2038.0 290.1 L2040.0 290.0 L2042.0 289.9 L2044.0 289.8 L2046.0 289.7 L2048.0 289.7 L2050.0 289.6 L2052.0 289.5 L2054.0 289.4 L2054.1 289.4 L2056.0 289.3 L2058.0 289.3 L2060.0 289.2 L2062.0 289.1 L2064.0 289.0 L2066.0 289.0 L2068.0 288.9 L2070.0 288.8 L2072.0 288.7 L2074.0 288.7 L2076.0 288.6 L2078.0 288.5 L2080.0 288.4 L2082.0 288.3 L2084.0 288.1 L2086.0 288.0 L2086.3 288.0 L2088.0 287.9 L2090.0 287.7 L2092.0 287.5 L2094.0 287.3 L2096.0 287.0 L2098.0 286.8 L2100.0 286.5 L2102.0 286.2 L2104.0 285.8 L2106.0 285.5 L2108.0 285.1 L2110.0 284.8 L2112.0 284.4 L2114.0 284.0 L2116.0 283.6" stroke="#000080" stroke-width="10.5" stroke-dasharray="0.001 9.5 1.0 22.3 29.5 22.3 1.0 22.3 29.5 22.3 1.0 22.0 29.5 22.0 1.0 23.9 29.5 23.9 1.0 22.0 29.5 22.0 1.0 22.3 29.5 22.3 1.0 24.1 29.5 24.1 1.0 22.1 29.5 22.1 1.0 23.0 29.5 23.0 1.0 23.1 29.5 23.1 1.0 23.1 29.5 23.1 1.0 23.4 29.5 23.4 1.0 20.3 29.5 20.3 1.0 23.3 29.5 23.3 1.0 21.5 29.5 21.5 1.0 21.6 29.5 21.6 1.0 23.5 29.5 23.5 1.0 24.3 29.5 24.3 1.0 22.9 29.5 22.9 1.0 22.5 29.5 22.5 1.0 23.0 29.5 23.0 1.0 22.5 29.5 22.5 1.0 22.2 29.5 22.2 1.0 22.5 29.5 22.5 1.0 22.8 29.5 22.8 1.0 22.5 29.5 22.5 1.0 22.5 29.5 22.5 1.0 22.8 29.5 22.8 1.0 21.6 29.5 21.6 1.0 22.1 29.5 22.1 1.0 21.3 29.5 21.3 1.0 19.0 29.5 19.0 1.0 18.5 29.5 18.5 1.0 18.5 29.5 9000.0" stroke-dashoffset="0.0" stroke-linecap="round"/>
</g>
<rect x="1752.8" y="801" width="359.20000000000005" height="655" fill="#fff" stroke="#000" stroke-width="2"/>
<line x1="2114.8" y1="799" x2="2114.8" y2="1458" stroke="#000" stroke-width="5.0"/>
<line x1="1762.5" y1="842.8" x2="1912" y2="842.8" stroke="#000000" stroke-width="10.3" stroke-linecap="round"/>
<text class="b" transform="translate(1928.6 865.1) scale(1.032 1)" font-size="63.4">glass</text>
<line x1="1762.5" y1="938.6" x2="1912" y2="938.6" stroke="#ff0000" stroke-width="10.3" stroke-dasharray="41 54" stroke-linecap="round"/>
<text class="b" transform="translate(1928.6 960.9) scale(1.032 1)" font-size="63.4">25<tspan font-size="38.5" dy="-37">0</tspan><tspan dy="37"> C</tspan></text>
<line x1="1762.5" y1="1034.4" x2="1912" y2="1034.4" stroke="#0000ff" stroke-width="10.5" stroke-linecap="round"/>
<text class="b" transform="translate(1928.6 1056.7) scale(1.032 1)" font-size="63.4">50<tspan font-size="38.5" dy="-37">0</tspan><tspan dy="37"> C</tspan></text>
<line x1="1762.5" y1="1130.2" x2="1912" y2="1130.2" stroke="#008080" stroke-width="10.3" stroke-dasharray="49 32 7 32" stroke-linecap="round"/>
<text class="b" transform="translate(1928.6 1152.5) scale(1.032 1)" font-size="63.4">100<tspan font-size="38.5" dy="-37">0</tspan><tspan dy="37">C</tspan></text>
<line x1="1762.5" y1="1226.0" x2="1912" y2="1226.0" stroke="#ff00ff" stroke-width="13.6" stroke-dasharray="0.5 25.1" stroke-linecap="round"/>
<text class="b" transform="translate(1928.6 1248.3) scale(1.032 1)" font-size="63.4">150<tspan font-size="38.5" dy="-37">0</tspan><tspan dy="37">C</tspan></text>
<line x1="1762.5" y1="1321.8" x2="1912" y2="1321.8" stroke="#808000" stroke-width="10.3" stroke-dasharray="36.5 31 7 31.8 7 32.1" stroke-linecap="round"/>
<text class="b" transform="translate(1928.6 1344.1) scale(1.032 1)" font-size="63.4">200<tspan font-size="38.5" dy="-37">0</tspan><tspan dy="37">C</tspan></text>
<line x1="1762.5" y1="1417.6" x2="1912" y2="1417.6" stroke="#000080" stroke-width="10.5" stroke-dasharray="29.5 22.3 1 22.8" stroke-linecap="round"/>
<text class="b" transform="translate(1928.6 1439.9) scale(1.032 1)" font-size="63.4">250<tspan font-size="38.5" dy="-37">0</tspan><tspan dy="37">C</tspan></text>
</svg></body></html>
